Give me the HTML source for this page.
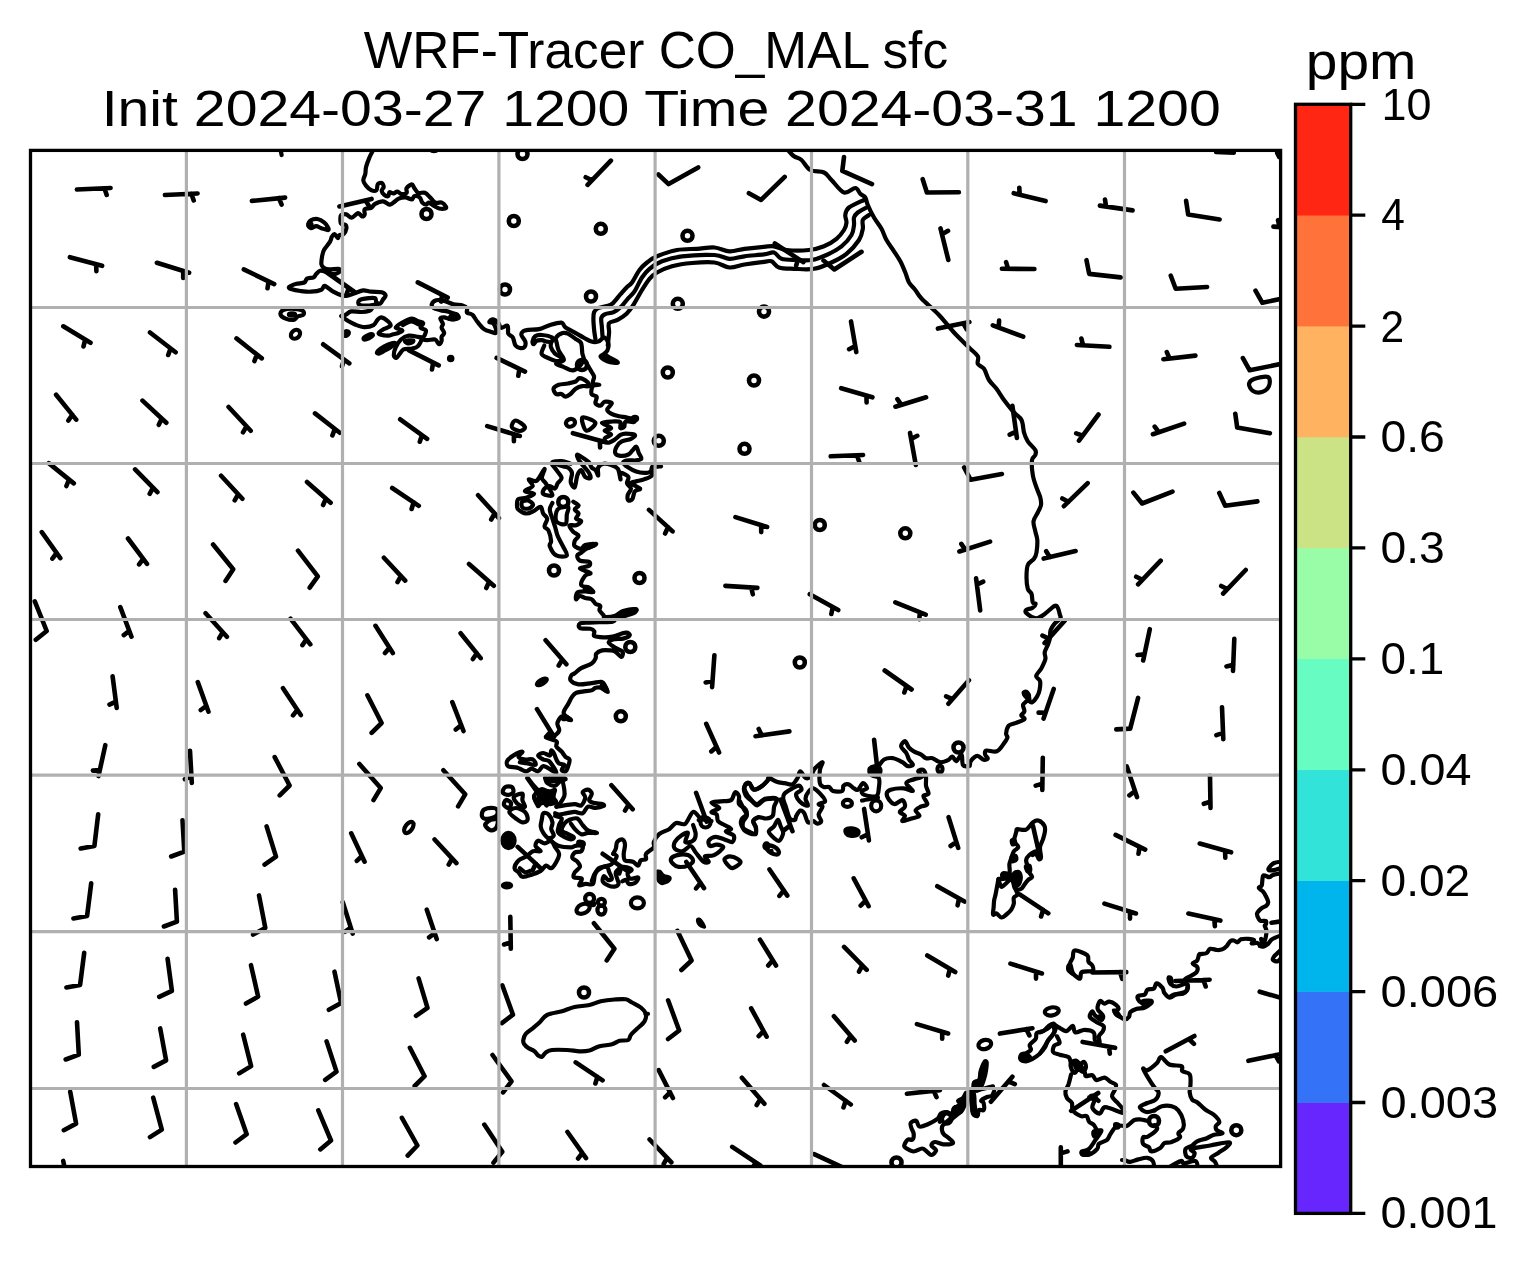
<!DOCTYPE html>
<html><head><meta charset="utf-8"><title>WRF-Tracer CO_MAL sfc</title>
<style>html,body{margin:0;padding:0;background:#fff}svg{display:block;will-change:transform}text{font-family:"Liberation Sans",sans-serif;fill:#000}</style></head>
<body>
<svg width="1528" height="1267" viewBox="0 0 1528 1267">
<rect width="1528" height="1267" fill="#fff"/>
<defs><clipPath id="ax"><rect x="30.5" y="150.4" width="1250.1" height="1016.1"/></clipPath></defs>
<g clip-path="url(#ax)">
<g fill="none" stroke="#000" stroke-width="4.2" stroke-linejoin="round" stroke-linecap="round">
<path d="M373.8 149C373 150.5 370.5 155 369.2 158.1C367.9 161.2 366.6 164.7 366 167.3C365.4 169.9 365.8 171.6 365.3 173.8C364.9 176 363.2 178.4 363.3 180.4C363.4 182.4 364.7 184 366 185.6C367.3 187.2 369.5 189.4 371.2 190.2C372.9 191 375.3 191.2 376.4 190.2C377.5 189.2 376.9 185.5 377.8 184.3C378.7 183.1 380.7 182.6 381.7 183C382.7 183.4 383.7 185.6 383.7 186.9C383.7 188.2 381.6 189.5 381.7 190.8C381.8 192.1 383.2 193.9 384.3 194.8C385.4 195.7 387.3 196.5 388.2 196.1C389.1 195.7 388.6 192.6 389.5 192.2C390.4 191.8 392.2 193.6 393.5 193.5C394.8 193.4 396.1 191.4 397.4 191.5C398.7 191.6 399.8 193.9 401.3 194.1C402.8 194.3 405.7 193.8 406.6 192.8C407.5 191.8 405.7 189.6 406.6 188.2C407.5 186.8 410.5 184.3 411.8 184.3C413.1 184.3 413.3 186.8 414.4 188.2C415.5 189.6 416.6 192 418.3 192.8C420.1 193.6 422.9 192 424.9 192.8C426.9 193.6 428.4 195.8 430.1 197.4C431.9 199 433.4 201.7 435.4 202.6C437.4 203.5 440.1 201.9 441.9 202.6C443.6 203.3 445.3 205.6 445.9 206.6C446.4 207.6 446.3 208.2 445.2 208.5C444.1 208.8 441.1 208.9 439.3 208.5C437.5 208.1 435.9 206.9 434.1 205.9C432.4 204.9 430.1 202.8 428.8 202.6C427.5 202.4 427.3 204.6 426.2 204.6C425.1 204.6 423.4 203.8 422.3 202.6C421.2 201.4 421 198.5 419.7 197.4C418.4 196.3 415.7 195.8 414.4 196.1C413.1 196.4 413.3 199.2 411.8 199.4C410.3 199.6 407.5 197.5 405.3 197.4C403.1 197.3 400.7 197.8 398.7 198.7C396.7 199.6 395 201.6 393.5 202.6C392 203.6 391.2 204.8 389.5 204.6C387.8 204.4 385.4 201.4 383 201.3C380.6 201.2 377.1 202.8 375.1 203.9C373.1 205 372.9 207 371.2 207.9C369.5 208.8 365.8 208.1 364.7 209.2C363.6 210.3 365.1 213.2 364.7 214.4C364.2 215.6 363.1 216.6 362 216.4C360.9 216.2 359.8 212.9 358.1 213.1C356.4 213.3 353.6 217.5 351.6 217.7C349.6 217.9 348.1 214.8 346.3 214.4C344.6 214 342.1 214.3 341.1 215.1C340.1 215.9 340.4 217.6 340.4 219C340.4 220.4 340.1 222.6 341 223.6C341.9 224.6 344.8 224 345.7 224.9C346.6 225.8 346.6 227.3 346.3 228.8C346 230.3 344.9 232.9 343.7 234C342.5 235.1 340.1 234.7 339.1 235.4C338.1 236.1 338.6 238.2 337.8 238C337 237.8 335.5 234.2 334.5 234C333.5 233.8 332.7 235.4 331.9 236.7C331.1 238 331.2 239.7 329.9 241.9C328.6 244.1 325.4 247.4 324.1 249.8C322.8 252.2 322.6 253.9 322.1 256.3C321.7 258.7 321.1 262.2 321.4 264.2C321.7 266.2 322.8 267.2 324.1 268.1C325.4 269 326.9 269.3 329.3 269.4C331.7 269.5 336.8 268.5 338.5 268.8C340.2 269.1 340.7 270.5 339.8 271.4C338.9 272.3 335.4 273.9 333.2 274C331 274.1 328.9 272.6 326.7 272C324.5 271.4 321.9 270.4 320.1 270.7C318.4 271 317.3 272.9 316.2 274C315.1 275.1 315.1 276.5 313.6 277.3C312.1 278.1 308.5 277.7 307 278.6C305.5 279.5 306.1 281.6 304.4 282.5C302.6 283.4 298.7 283.2 296.5 283.8C294.3 284.4 292.3 285.2 291 285.8C289.7 286.4 288.8 286.8 288.8 287.3C288.8 287.9 289.1 288.5 291 289.1C292.9 289.7 297.2 290.6 300.5 291C303.8 291.4 307.5 291.9 311 291.7C314.5 291.5 319.1 290.7 321.4 289.7C323.7 288.7 322.7 285.5 324.7 285.8C326.7 286.1 330.2 290.1 333.2 291.7C336.1 293.3 340 295 342.4 295.6C344.8 296.2 345.4 296 347.6 295.6C349.8 295.2 352.9 293.9 355.5 293C358.1 292.1 360.7 290.6 363.3 290.4C365.9 290.2 368.1 291.4 371.2 291.7C374.3 292 379.3 291.6 381.7 292.3C384.1 293 385.4 294.4 385.6 295.6C385.8 296.8 383.9 298.2 383 299.5C382.1 300.8 381.5 303.1 380.4 303.5C379.3 303.9 377.3 303.1 376.4 302.2C375.5 301.3 376.4 298.9 375.1 298.2C373.8 297.5 371.2 297.9 368.6 298.2C366 298.5 360.9 299.1 359.4 300.2C357.9 301.3 357.7 303.9 359.4 304.8C361.1 305.7 366.1 305.7 369.5 305.5C372.9 305.3 378.2 303.8 380 303.5"/>
<path d="M308.3 224.9C308.3 223.6 309.5 221.3 311 220.3C312.5 219.3 315.3 218.7 317.5 219C319.7 219.3 322.4 220.9 324.1 222.3C325.9 223.7 327.4 226.2 328 227.5C328.6 228.8 329.1 230 328 230.1C326.9 230.2 323.4 228.8 321.4 228.2C319.4 227.5 317.9 226.2 316.2 226.2C314.5 226.2 312.3 228.4 311 228.2C309.7 228 308.3 226.2 308.3 224.9Z"/>
<path d="M280.5 314.6C280.1 313.2 280.9 311.1 283.1 310.1C285.3 309.1 290.3 308.7 293.6 308.8C296.9 308.9 301.1 309.7 302.7 310.7C304.3 311.7 304.3 313.6 303.4 314.6C302.5 315.6 299.1 315.7 297.5 316.6C295.9 317.5 295.6 319.6 293.6 319.9C291.6 320.2 287.9 319.5 285.7 318.6C283.5 317.7 280.9 316 280.5 314.6Z"/>
<path d="M393.8 355.2C393.7 353.4 394.5 350 395.7 347.4C396.9 344.8 398.8 341.5 401 339.5C403.2 337.5 406 336 408.8 335.6C411.6 335.2 415.8 336.5 418 336.9C420.2 337.3 421.9 336.7 421.9 338.2C421.9 339.7 419.7 344.4 418 346.1C416.3 347.9 413.9 348.1 411.5 348.7C409.1 349.2 405.6 348.5 403.6 349.4C401.6 350.3 400.9 352.5 399.7 353.9C398.5 355.3 397.4 357.7 396.4 357.9C395.4 358.1 393.9 356.9 393.8 355.2Z"/>
<path d="M341.4 316C342.2 315.8 344.4 315.4 346 314.6C347.6 313.8 348.6 311.8 351.2 311.4C353.8 311 358.6 312.1 361.7 312C364.8 311.9 367.8 311.3 369.5 310.7C371.2 310.1 371.8 308.5 372.2 308.1"/>
<path d="M341.4 316C341.9 316.4 343.5 317.7 344.7 318.6C345.9 319.5 346.9 320.2 348.6 321.2C350.3 322.2 352.5 323.5 355.1 324.5C357.7 325.5 361.2 327 364.3 327.1C367.4 327.2 371.3 326.3 373.5 325.1C375.7 323.9 376.1 321.2 377.4 319.9C378.7 318.6 379.6 317.1 381.3 317.3C383.1 317.5 386.4 319.8 387.9 321.2C389.4 322.6 391.2 324.5 390.5 325.8C389.8 327.1 385.9 327.8 383.9 329.1C381.9 330.4 378 332.5 378.7 333.6C379.4 334.7 385.5 335.5 387.9 335.6C390.3 335.7 391.4 334.7 393.1 334.3C394.9 333.9 396.9 333.6 398.4 333C399.9 332.4 402.8 331.3 402.3 330.4C401.9 329.5 395.9 328.9 395.7 327.7C395.5 326.5 398.4 324.7 401 323.2C403.6 321.7 408.7 318.9 411.5 318.6C414.3 318.3 416.1 320.4 418 321.2C419.9 322 422.8 322.1 423.2 323.2C423.6 324.3 420.2 326.5 420.6 327.7C421.1 328.9 425.2 329.1 425.9 330.4C426.5 331.7 425.2 334.2 424.5 335.6C423.8 337 421.4 338.1 421.9 338.9C422.3 339.7 425 340.1 427.2 340.2C429.4 340.3 433 338.9 435 339.5C437 340.1 437.9 343.9 439 344.1C440.1 344.3 441.2 342 441.6 340.8C442 339.6 441.2 338.2 441.6 336.9C442 335.6 444.2 334.5 444.2 333C444.2 331.5 441.8 329.2 441.6 327.7C441.4 326.2 443.1 325.3 442.9 323.8C442.7 322.3 440.1 319.7 440.3 318.6C440.5 317.5 442.5 317.2 444.2 317.3C445.9 317.4 448.3 319.1 450.7 319.2C453.1 319.3 457.7 318.7 458.6 317.9C459.5 317.1 457.5 315.6 456 314.6C454.5 313.6 452 312.8 449.4 312C446.8 311.2 442.9 310.8 440.3 310.1C437.7 309.5 435.1 309.1 433.7 308.1C432.3 307.1 431.4 305.5 431.8 304.2C432.2 302.9 434.2 300.8 436.3 300.2C438.4 299.6 441.4 300.2 444.2 300.9C447 301.6 450.3 303.4 453.4 304.2C456.4 305 460.2 304.8 462.5 305.5C464.8 306.2 466.2 307 467 308.2C467.8 309.4 466.1 311.6 467 312.7C467.9 313.8 470.6 313.2 472.3 314.7C474.1 316.2 475.5 319.5 477.5 321.9C479.5 324.3 481.9 327.5 484.1 329.1C486.3 330.7 488.7 331.1 490.6 331.7C492.6 332.3 494.9 333.5 495.8 333C496.7 332.5 496.2 330.1 495.8 328.5C495.4 326.9 494.3 324.3 493.2 323.2C492.1 322.1 489.3 322.5 489.3 321.9C489.3 321.2 491.7 319.1 493.2 319.3C494.7 319.5 497.2 321.8 498.5 323.2C499.8 324.6 499.6 327.4 501.1 327.8C502.6 328.2 506.4 324.8 507.6 325.8C508.8 326.8 507.4 331.7 508.3 333.7C509.2 335.7 511.7 335.6 512.9 337.6C514.1 339.6 514.2 343.8 515.5 345.5C516.8 347.2 519.2 347.9 520.7 348.1C522.2 348.3 523.9 347.9 524.7 346.8C525.5 345.7 525.8 343.6 525.3 341.6C524.8 339.6 521.7 336.8 521.4 335C521.1 333.2 522.1 332 523.3 331.1C524.5 330.2 526 330.1 528.6 329.8C531.2 329.5 535.6 329.9 539.1 329.1C542.6 328.3 545.8 326.3 549.5 325.2C553.2 324.1 558.7 322.3 561.3 322.6C563.9 322.9 563.1 325.6 565.3 327.2C567.5 328.8 571.3 330.7 574.4 332.4C577.5 334.1 580.8 336.1 583.6 337.6C586.5 339.1 589.1 340.9 591.5 341.6C593.9 342.3 595.8 342.3 598 341.6C600.2 340.9 602.9 337.2 604.6 337.6C606.4 338 608.1 342 608.5 344.2C608.9 346.4 608.1 348.9 607.2 350.7C606.3 352.4 603.9 354 603.2 354.7"/>
<path d="M403 325C404.3 324.4 408.3 321.6 411 321.5C413.7 321.4 417.7 324 419 324.5"/>
<path d="M532.5 341.6C532.7 340.3 533.6 337.4 535.1 336.3C536.6 335.2 538.9 334.8 541.7 335C544.6 335.2 550.6 336.5 552.2 337.6C553.8 338.7 552.4 340.9 551.5 341.6C550.6 342.3 548.5 341.8 546.9 341.6C545.3 341.4 543.5 340.3 541.7 340.2C540 340.1 537.7 340.2 536.4 340.9C535.1 341.6 534.4 344.1 533.8 344.2C533.1 344.3 532.3 342.9 532.5 341.6Z"/>
<path d="M544.3 345.5C543.9 346.9 540.8 351.8 541.7 354C542.6 356.2 546.9 357.4 549.5 358.6C552.1 359.8 555.2 361.2 557.4 361.2C559.6 361.2 563 359.9 562.6 358.6C562.2 357.3 556.8 355.4 554.8 353.4C552.8 351.4 551.3 348.8 550.8 346.8C550.2 344.8 551.4 342.5 551.5 341.6"/>
<path d="M556.1 337.6C557.1 336 560.6 333.8 562.6 333.1C564.6 332.5 565.7 332.7 567.9 333.7C570.1 334.7 573.5 337.4 575.7 338.9C577.9 340.4 579.9 340.5 581 342.9C582.1 345.3 581.9 350.7 582.3 353.3C582.7 355.9 583.8 356.7 583.6 358.6C583.4 360.5 582.8 362.5 581 364.5C579.2 366.5 576 370 573.1 370.4C570.2 370.8 566.7 368.2 563.9 367.1C561.1 366 556.1 365 556.1 363.8C556.1 362.6 563.5 362.1 563.9 359.9C564.3 357.7 559.9 353.5 558.7 350.7C557.5 347.9 557.1 345.1 556.7 342.9C556.3 340.7 555.1 339.2 556.1 337.6Z"/>
<path d="M583.6 358.6C584.2 359.7 586.2 362.9 587.5 365.1C588.8 367.3 590.4 369.7 591.5 371.7C592.6 373.7 593.9 374.9 594.1 376.9C594.3 378.9 591.9 382.2 592.8 383.5C593.7 384.8 599.3 384.4 599.3 384.8C599.3 385.2 594.1 384.6 592.8 386.1C591.5 387.6 590.9 392.2 591.5 394C592.1 395.8 596.1 395.1 596.7 396.6C597.4 398.1 594.8 401.6 595.4 403.1C596 404.6 599.1 405.9 600.6 405.7C602.1 405.5 602.7 402.2 604.6 401.8C606.5 401.4 611.4 401.8 611.8 403.1C612.2 404.4 607.3 407.9 607.2 409.7C607.1 411.4 609.1 412.5 611.1 413.6C613.1 414.7 616.4 415.6 619 416.2C621.6 416.8 624.2 416.9 626.8 417.5C629.4 418.1 633.6 418.7 634.7 419.5C635.8 420.3 634.9 421.8 633.4 422.1C631.9 422.4 627 420.7 625.5 421.5C624 422.3 625.1 425.6 624.2 426.7C623.3 427.8 620.9 428.8 620.3 428C619.6 427.2 621.6 423.2 620.3 422.1C619 421 615.5 421.4 612.4 421.5C609.3 421.6 602.1 421.7 601.9 422.8C601.7 423.9 610.6 426.7 611.1 428C611.6 429.3 604.6 429.5 604.6 430.6C604.6 431.7 611.1 433.2 611.1 434.5C611.1 435.8 605.2 437.1 604.6 438.5C604 439.9 605.8 442.4 607.4 442.7C609 443 611.8 441.4 614 440.1C616.2 438.8 618.5 436 620.5 434.9C622.5 433.8 623.3 433.6 625.7 433.6C628.1 433.6 634 434 634.9 434.9C635.8 435.8 633.2 437.7 631 438.8C628.8 439.9 624.2 440.1 621.8 441.4C619.4 442.7 617.7 444.7 616.6 446.7C615.5 448.7 614.6 451.7 615.3 453.2C615.9 454.7 618.3 455.6 620.5 455.8C622.7 456 626.4 455.4 628.4 454.5C630.4 453.6 631 451.9 632.3 450.6C633.6 449.3 635.1 446.3 636.2 446.7C637.3 447.1 637.9 451.2 638.8 453.2C639.7 455.2 641.8 457.3 641.4 458.5C641 459.7 638.4 460.1 636.2 460.4C634 460.7 630.6 460.1 628.4 460.4C626.2 460.7 623.1 461.2 623.1 462.4C623.1 463.6 626.2 466.1 628.4 467.6C630.6 469.1 633.6 470.7 636.2 471.6C638.8 472.5 641.7 472.9 644.1 472.9C646.5 472.9 649.2 472.7 650.6 471.6C652 470.5 650.9 467.2 652.6 466.3C654.4 465.4 661 466 661.1 466.3C661.2 466.6 654.5 466.5 653 468C651.5 469.5 653.4 473.6 651.9 475.5C650.4 477.4 646.7 478.4 644.1 479.4C641.5 480.4 638.4 480.8 636.2 481.4C634 482 630.4 482.1 631 483.3C631.6 484.5 639.5 487.3 640.1 488.6C640.8 489.9 636.2 489.4 634.9 491.2C633.6 492.9 633.4 497.6 632.3 499.1C631.2 500.6 629.2 501.1 628.4 500.4C627.6 499.7 627.3 497.1 627.7 495.1C628.1 493.1 631.1 490.6 631 488.6C630.9 486.6 627.4 485.3 627 483.3C626.6 481.3 629.5 478.5 628.4 476.8C627.3 475.1 621.8 472.5 620.5 472.9C619.2 473.3 620.9 480.1 620.5 479.4C620.1 478.7 619.4 471.3 617.9 468.9C616.4 466.5 613.7 465.9 611.3 465C608.9 464.1 605.7 463.3 603.5 463.7C601.3 464.1 599.1 465.6 598.2 467.6C597.3 469.6 598.6 475.1 598.2 475.5C597.8 475.9 596.7 471.5 595.6 470.2C594.5 468.9 592.8 468.9 591.7 467.6C590.6 466.3 590.4 463.9 589.1 462.4C587.8 460.9 585.8 459.8 583.8 458.5C581.8 457.2 578.2 454.3 577.3 454.5C576.4 454.7 577.5 457.8 578.6 459.8C579.7 461.8 582 464.1 583.8 466.3C585.5 468.5 588 470.9 589.1 472.9C590.2 474.9 591.1 477.5 590.4 478.1C589.7 478.8 586.6 478.1 585.1 476.8C583.6 475.5 582.5 470.4 581.2 470.2C579.9 470 578.4 472.6 577.3 475.5C576.2 478.4 575.8 486.2 574.7 487.3C573.6 488.4 571.2 484.4 570.7 482C570.2 479.6 572.4 475.3 572 472.9C571.6 470.5 569.6 468.7 568.1 467.6C566.6 466.5 565.5 467.2 562.9 466.3C560.3 465.4 552.6 463.3 552.4 462.4C552.2 461.5 558.5 460.9 561.6 461.1C564.7 461.3 569.2 463.3 570.7 463.7"/>
<path d="M553.5 388.7C553.9 387.2 556.3 385.7 558.7 384.8C561.1 383.9 565.1 384.1 567.9 383.5C570.7 382.9 573.7 382.4 575.7 381.5C577.7 380.6 577.7 378.1 579.7 378.2C581.7 378.3 586 380.9 587.5 382.2C589 383.5 589.7 385.5 588.8 386.1C587.9 386.8 584.5 385.7 582.3 386.1C580.1 386.5 577.7 387.4 575.7 388.7C573.7 390 572.2 392.7 570.5 394C568.8 395.3 566.8 396.6 565.3 396.6C563.8 396.6 562.8 394.4 561.3 394C559.8 393.6 557.4 394.9 556.1 394C554.8 393.1 553.1 390.2 553.5 388.7Z"/>
<path d="M582.3 417.5C583.8 416.2 594.8 420.6 595.4 422.8C596 425 588.4 431.5 586.2 430.6C584 429.7 580.8 418.8 582.3 417.5Z"/>
<path d="M515.7 420.5C517.9 420.5 524.2 425.2 524.9 427C525.5 428.8 521.8 431 519.6 431C517.4 431 512.5 428.8 511.8 427C511.2 425.2 513.5 420.5 515.7 420.5Z"/>
<path d="M552.4 465C553.3 466.1 556.1 469.4 557.6 471.6C559.1 473.8 561.6 476.2 561.6 478.1C561.6 480.1 558.7 481.6 557.6 483.3C556.5 485.1 556.3 488.2 555 488.6C553.7 489.1 551.5 486 549.8 486C548 486 545.6 487.3 544.5 488.6C543.4 489.9 541.9 492.7 543.2 493.8C544.5 494.9 552 496.9 552.4 495.1C552.8 493.4 547.5 486.1 545.8 483.3C544 480.5 542.1 480.5 541.9 478.1C541.7 475.7 545.4 468.5 544.5 468.9C543.6 469.3 539.3 478.9 536.7 480.7C534.1 482.4 529.5 478.5 528.8 479.4C528.1 480.3 533.4 484 532.7 486C532.1 488 524.7 489.9 524.9 491.2C525.1 492.5 533.9 492.7 534.1 493.8C534.3 494.9 528.8 496.9 526.2 497.8C523.6 498.7 519.8 497.9 518.3 499.1C516.8 500.3 517 503.3 517 505C517 506.7 516.8 508.1 518.3 509.5C519.8 510.9 523.6 513.3 526.2 513.5C528.8 513.7 531.7 511.9 534.1 510.8C536.5 509.7 539.1 506.4 540.6 506.9C542.1 507.3 542.1 511.5 543.2 513.5C544.3 515.5 547 516.5 547.2 518.7C547.4 520.9 544.3 524.6 544.5 526.6C544.7 528.6 547.4 528.1 548.5 530.5C549.6 532.9 550.9 538.4 551.1 541C551.3 543.6 548.9 543.8 549.8 546.2C550.7 548.6 553.5 553.9 556.3 555.4C559.1 556.9 565.7 556.9 566.8 555.4C567.9 553.9 564.4 549.5 562.9 546.2C561.4 542.9 558.9 539 557.6 535.7C556.3 532.4 555.9 529.4 555 526.6C554.1 523.8 553.3 521.6 552.4 518.7C551.5 515.9 549.8 512.1 549.8 509.5C549.8 506.9 552 504.1 552.4 503"/>
<path d="M522 502C522.9 500.8 526.2 500.1 528 500.5C529.8 500.9 532.8 503.2 533 504.5C533.2 505.8 530.8 508 529 508.5C527.2 509 523.7 508.6 522.5 507.5C521.3 506.4 521.1 503.2 522 502Z"/>
<path d="M557.6 509.5C555.6 511.9 555 518.9 556.3 521.3C557.6 523.7 563.8 525.1 565.5 524C567.2 522.9 566.4 517.6 566.8 514.8C567.2 511.9 569.6 507.8 568.1 506.9C566.6 506 559.6 507.1 557.6 509.5Z"/>
<path d="M573.3 501.7C574.2 502.4 578.4 504.3 578.6 505.6C578.8 506.9 574.7 508.2 574.7 509.5C574.7 510.8 578.4 512 578.6 513.5C578.8 515 575.6 517.4 576 518.7C576.4 520 581.2 520.2 581.2 521.3C581.2 522.4 578 524.6 576 525.3C574 526 569.9 524.2 569.4 525.3C568.9 526.4 571.8 530.1 573.3 531.8C574.8 533.5 578.4 534.2 578.6 535.7C578.8 537.2 575.4 539.2 574.7 541C574.1 542.8 573.6 544.9 574.7 546.2C575.8 547.5 579.5 549 581.2 548.8C582.9 548.6 582.7 545.7 585.1 544.9C587.5 544.1 595.4 543.6 595.6 544.2C595.8 544.9 588.8 547.4 586.4 548.8C584 550.2 582.7 551.7 581.2 552.8C579.7 553.9 577.5 554.1 577.3 555.4C577.1 556.7 577.9 559.5 579.9 560.6C581.9 561.7 587.6 561 589.1 561.9C590.6 562.8 590.6 564.7 589.1 565.8C587.6 566.9 579.7 567.3 579.9 568.5C580.1 569.7 589.5 571.9 590.4 573.1C591.3 574.3 586.6 573.7 585.1 575.7C583.6 577.7 580.5 582.8 581.2 584.9C581.9 587 587.1 587 589.1 588.2C591.1 589.4 593.7 591.6 593 592.1C592.3 592.6 587.7 591.3 585.1 591.4C582.5 591.5 578.8 591.4 577.3 592.7C575.8 594 575.6 598.8 576 599.3C576.4 599.8 578.4 596.2 579.9 596C581.4 595.8 583.1 597.5 585.1 598C587.1 598.5 590 598.3 591.7 599.3C593.5 600.3 594.2 602.8 595.6 603.9C597 605 599.6 604.7 600.2 605.8C600.9 606.9 599 608.9 599.5 610.4C600 611.9 602.6 613.9 603.5 615C604.4 616.1 602.8 616.9 604.8 617C606.8 617.1 612.2 616.7 615.3 615.7C618.3 614.7 619.7 612.2 623.1 611.1C626.5 610 633.6 608.9 635.6 609.1C637.6 609.3 636.5 611.3 634.9 612.4C633.2 613.5 628.8 614.7 625.7 615.7C622.7 616.7 618.8 617.3 616.6 618.3C614.4 619.3 615.5 621 612.6 621.6C609.8 622.2 603.4 622 599.5 622.2C595.6 622.4 592.4 622.4 589.1 622.6C585.8 622.8 581.4 622.6 579.9 623.5C578.4 624.4 578.1 627.2 579.9 628.1C581.6 629 588 628.2 590.4 628.8C592.8 629.3 593.6 630.2 594.3 631.4C594.9 632.6 592.8 635 594.3 636C595.8 637 600.5 637.2 603.5 637.3C606.5 637.4 608.9 637.4 612.6 636.6C616.3 635.8 622.9 632.9 625.7 632.7C628.6 632.5 630.1 634.3 629.7 635.3C629.3 636.3 625.7 638 623.1 638.6C620.5 639.2 616.4 638.6 614 639.2C611.6 639.9 608.5 641.1 608.7 642.5C608.9 643.9 613 646.3 615.3 647.8C617.6 649.3 621.5 650.2 622.5 651.7C623.5 653.2 622.4 656.9 621.2 656.9C620 656.9 617.2 652.8 615.3 651.7C613.4 650.6 612.2 650.6 610 650.4C607.8 650.2 604.5 649.9 602.2 650.4C599.9 650.9 597.4 652.3 596.3 653.6C595.2 654.9 596.4 656.6 595.6 658.2C594.8 659.9 594.1 661.9 591.7 663.5C589.3 665.1 584 666.5 581.2 668.1C578.4 669.7 576.3 672.1 574.7 673.3C573.1 674.5 572.1 674.1 571.4 675.3C570.7 676.5 569.5 679 570.7 680.5C571.9 682 575.1 684 578.6 684.4C582.1 684.8 587.9 683.5 591.7 683.1C595.5 682.7 599.3 681.4 601.5 681.8C603.7 682.2 603.8 684.1 604.8 685.7C605.8 687.3 608 691.3 607.4 691.6C606.8 691.9 602.9 688.4 600.9 687.7C598.9 687.1 597.1 687.3 595.6 687.7C594.1 688.1 593.9 689.6 591.7 690.3C589.5 690.9 585.1 691.2 582.5 691.6C579.9 692 577.8 692 576 692.9C574.2 693.8 573.3 695 572 696.9C570.7 698.8 569.4 701.8 568.1 704.1C566.8 706.4 564.9 708.9 564.2 710.6C563.6 712.4 563.1 713.1 564.2 714.6C565.3 716.1 570.5 719.1 570.7 719.8C570.9 720.4 567 719 565.5 718.5C564 718 562.9 715.9 561.6 716.5C560.3 717.1 558.2 720.9 557.6 722.4C557 723.9 557.5 724.1 557.8 725.5C558 726.9 559.8 729 559.1 730.7C558.4 732.5 556 734.9 553.8 736C551.6 737.1 545.6 736.4 546 737.3C546.4 738.2 554.7 739.7 556.4 741.2C558.1 742.7 555.5 744.6 556.4 746.4C557.3 748.1 560.2 750 561.7 751.7C563.2 753.5 564.3 755.6 565.6 756.9C566.9 758.2 569.1 758 569.5 759.5C569.9 761 568.9 764.1 568.2 766.1C567.6 768.1 566.7 770.6 565.6 771.3C564.5 771.9 561.9 771.1 561.7 770C561.5 768.9 564.7 765.9 564.3 764.8C563.9 763.7 560.4 764.4 559.1 763.5C557.8 762.6 557.3 761.2 556.4 759.5C555.5 757.8 554.7 754.5 553.8 753C552.9 751.5 551.9 750 551.2 750.4C550.6 750.8 551.2 755.2 549.9 755.6C548.6 756 545.3 753 543.3 753C541.3 753 538.1 754.5 538.1 755.6C538.1 756.7 541.5 758.6 543.3 759.5C545 760.4 546.9 759.5 548.6 760.8C550.4 762.1 552.5 765.4 553.8 767.4C555.1 769.4 556.8 772.2 556.4 772.6C556 773 553.4 771.1 551.2 770C549 768.9 545.5 765.9 543.3 766.1C541.1 766.3 540 770.9 538.1 771.3C536.2 771.7 533.6 768.7 531.6 768.7C529.6 768.7 528.3 771.3 526.3 771.3C524.3 771.3 521.5 769.4 519.8 768.7C518 768.1 517.8 767.8 515.8 767.4C513.8 767 509.4 767.2 508 766.1C506.6 765 506.4 762.5 507.3 760.8C508.2 759 510.7 757.1 513.2 755.6C515.7 754.1 521.5 751.5 522.4 751.7C523.3 751.9 518.1 755.6 518.5 756.9C518.9 758.2 522.6 759.1 525 759.5C527.4 759.9 531.1 758.6 532.9 759.5C534.6 760.4 536.4 764.1 535.5 764.8C534.6 765.5 530.2 763.9 527.6 763.5C525 763.1 521.1 762.4 519.8 762.2"/>
<path d="M527.6 777.9C528.7 779.2 531.9 783.6 534 786C536.1 788.4 537.8 789.7 540 792C542.2 794.3 546.8 798.2 547 800C547.2 801.8 543.2 803.3 541 803C538.8 802.7 534.5 797.5 534 798C533.5 798.5 537.3 804.7 538 806"/>
<path d="M545 778C545.4 778.9 545.6 781.8 547.3 783.1C549 784.4 552.7 786.1 555.1 785.7C557.5 785.3 560.2 779.8 561.7 780.5C563.2 781.2 563.9 787.1 564.3 789.7C564.7 792.3 564.9 794 564.3 796.2C563.6 798.4 561.7 801 560.4 802.8C559.1 804.5 557.1 806.1 556.4 806.7"/>
<path d="M536 793C537.3 791.7 539.8 789.2 542 789C544.2 788.8 546.8 791.8 549 792C551.2 792.2 554.3 789.2 555 790C555.7 790.8 552.8 795 553 797C553.2 799 556.7 800.8 556 802C555.3 803.2 551.2 804.3 549 804C546.8 803.7 544.8 800.2 543 800C541.2 799.8 539.5 803.5 538 803C536.5 802.5 534.3 798.7 534 797C533.7 795.3 534.7 794.3 536 793Z"/>
<path d="M502.7 792.3C502.3 791 503.9 787.9 505.4 787C506.9 786.1 510.6 786.1 511.9 787C513.2 787.9 513.9 791 513.2 792.3C512.6 793.6 509.8 794.9 508 794.9C506.2 794.9 503.1 793.6 502.7 792.3Z"/>
<path d="M514.5 796.2C515.8 795.1 521.1 793 522.4 793.6C523.7 794.2 522 797.9 522.4 800.1C522.8 802.3 525.4 805.8 525 806.7C524.6 807.6 521.5 806.5 519.8 805.4C518 804.3 515.4 801.6 514.5 800.1C513.6 798.6 513.2 797.3 514.5 796.2Z"/>
<path d="M509.3 811.9C509.3 810.1 513.2 808 515.8 808C518.4 808 523 809.9 525 811.9C527 813.9 528 818 527.6 819.8C527.2 821.5 524.4 822.6 522.4 822.4C520.4 822.2 518 820.2 515.8 818.5C513.6 816.8 509.3 813.6 509.3 811.9Z"/>
<path d="M506 800C507.2 799.7 510.5 801.7 511 803C511.5 804.3 510.2 807.7 509 808C507.8 808.3 504.5 806.3 504 805C503.5 803.7 504.8 800.3 506 800Z"/>
<path d="M481.8 814.5C481.9 813 482.4 810.4 484.4 809.3C486.4 808.2 491.4 807.8 493.6 808C495.8 808.2 497.1 809.3 497.5 810.6C497.9 811.9 497.5 814.6 496.2 815.9C494.9 817.2 491.6 818.1 489.6 818.5C487.6 818.9 485.3 819.2 484 818.5C482.7 817.8 481.7 816 481.8 814.5Z"/>
<path d="M485.7 823.7C486.6 822.6 489 820.4 491 819.8C493 819.1 496.6 818.5 497.5 819.8C498.4 821.1 497.3 825.9 496.2 827.6C495.1 829.4 492.8 830.5 491 830.3C489.2 830.1 486.6 827.4 485.7 826.3C484.8 825.2 484.8 824.8 485.7 823.7Z"/>
<path d="M514.5 868.2C514.5 866.2 516.5 862.4 518.5 860.4C520.5 858.4 523.9 858 526.3 856.5C528.7 855 530.5 852.1 532.9 851.2C535.3 850.3 540.3 852.1 540.7 851.2C541.1 850.3 535.9 847.8 535.5 846C535.1 844.2 536.6 841.1 538.1 840.7C539.6 840.3 542.5 843.4 544.7 843.4C546.9 843.4 549.5 840.1 551.2 840.7C552.9 841.4 553.8 845.1 555.1 847.3C556.4 849.5 558.9 851.4 559.1 853.8C559.3 856.2 557.7 859.3 556.4 861.7C555.1 864.1 552.9 867.6 551.2 868.2C549.5 868.9 547.8 865.2 546 865.6C544.2 866 543.1 869.4 540.7 870.9C538.3 872.4 534.7 873.8 531.6 874.8C528.5 875.8 524.6 877.2 522.4 876.8C520.2 876.4 519.8 873.6 518.5 872.2C517.2 870.8 514.5 870.2 514.5 868.2Z"/>
<path d="M519.8 868.2C520.7 868.9 523.3 871.8 525 872.2C526.7 872.7 529.3 871.1 530.2 870.9"/>
<path d="M543.3 813.2C544.4 812.5 547.1 813 548.6 814.5C550.1 816 552.1 820 552.5 822.4C552.9 824.8 551 826.8 551.2 829C551.4 831.2 554.2 834 553.8 835.5C553.4 837 550.4 838.5 548.6 838.1C546.9 837.7 544.6 834.9 543.3 832.9C542 830.9 540.9 828.7 540.7 826.3C540.5 823.9 541.6 820.7 542 818.5C542.4 816.3 542.2 813.9 543.3 813.2Z"/>
<path d="M555.1 815.9C556.2 816.3 561 817 561.7 818.5C562.4 820 559.8 822.8 559.1 825C558.5 827.2 557.4 829.9 557.8 831.6C558.2 833.4 559.5 834.2 561.7 835.5C563.9 836.8 568.9 839.2 570.9 839.4C572.9 839.6 574.4 837.9 573.5 836.8C572.6 835.7 567.6 834 565.6 832.9C563.6 831.8 561.9 831.8 561.7 830.3C561.5 828.8 563 825.5 564.3 823.7C565.6 822 567.3 820.7 569.5 819.8C571.7 818.9 575.2 817.6 577.4 818.5C579.6 819.4 580.9 823 582.6 825C584.4 827 585.5 829 587.9 830.3C590.3 831.6 597 832.5 597 832.9C597 833.3 590.5 832.7 587.9 832.9C585.3 833.1 583.5 834.9 581.3 834.2C579.1 833.6 576.5 830.8 574.8 829C573.1 827.2 571.5 824.6 570.9 823.7"/>
<path d="M556.4 806.7C557.7 806.5 561.2 805.8 564.3 805.4C567.4 805 572 804.1 574.8 804.1C577.6 804.1 579.5 806.5 581.3 805.4C583 804.3 585.1 799.7 585.3 797.5C585.5 795.3 582.2 793.6 582.6 792.3C583 791 586.4 789.5 587.9 789.7C589.4 789.9 591.6 791.9 591.8 793.6C592 795.3 589 798.6 589.2 800.1C589.4 801.6 590.9 802.1 593.1 802.8C595.3 803.5 600.5 803.6 602.3 804.1C604 804.6 604.7 805.4 603.6 806C602.5 806.6 598.3 807.9 595.7 808C593.1 808.1 590.1 805.8 587.9 806.7C585.7 807.6 584.8 812.3 582.6 813.2C580.4 814.1 577.4 811.9 574.8 811.9C572.2 811.9 569.5 812.8 566.9 813.2C564.3 813.6 561.1 814.5 559.1 814.5C557.1 814.5 555.8 813.4 555.1 813.2"/>
<path d="M548.6 839.4C550.4 840.5 555.4 844.7 559.1 846C562.8 847.3 568.3 847.3 570.9 847.3C573.5 847.3 572.8 846.4 574.8 846C576.8 845.6 581.5 843.8 582.6 844.7C583.7 845.6 582.6 849.9 581.3 851.2C580 852.5 576.3 851.4 574.8 852.5C573.3 853.6 571.8 856.3 572.2 857.8C572.6 859.3 576.1 860.2 577.4 861.7C578.7 863.2 580.4 865.1 580 866.9C579.6 868.6 575.8 870.5 574.8 872.2C573.8 874 572.7 876.3 573.9 877.4C575.1 878.5 580.9 877.4 581.8 878.7C582.7 880 578.6 884.4 579.2 885.3C579.9 886.2 583.4 884.1 585.7 883.9C588 883.7 591.4 885.4 592.9 883.9C594.4 882.4 593.9 877.4 594.9 874.8C595.9 872.2 596.8 869.5 598.8 868.2C600.8 866.9 605 866.2 606.7 866.9C608.5 867.6 608.4 870.2 609.3 872.2C610.2 874.2 612.1 877.4 611.9 878.7C611.7 880 609.3 880.4 608 880C606.7 879.6 605 875.9 604.1 876.1C603.2 876.3 602.1 879.8 602.7 881.3C603.4 882.8 606 884.4 608 885.3C610 886.2 612.8 886.8 614.5 886.6C616.2 886.4 618 885.2 618.5 883.9C619 882.6 617.7 880.7 617.2 878.7C616.8 876.8 614.9 874.2 615.8 872.2C616.7 870.2 619.8 867.4 622.4 866.9C625 866.4 630.7 868.4 631.6 869.5C632.5 870.6 627.8 872 627.6 873.5C627.4 875 628.5 878.1 630.2 878.7C632 879.4 637.2 876.8 638.1 877.4C639 878 637 881.5 635.5 882.6C634 883.7 630.4 884.3 628.9 883.9C627.4 883.5 627.4 880.4 626.3 880C625.2 879.6 623 881.1 622.4 881.3"/>
<path d="M613.2 853.8C613.6 852.9 615.1 850.6 615.8 848.6C616.5 846.6 616.1 843.5 617.2 842C618.3 840.5 621.1 838.9 622.4 839.4C623.7 839.9 624.8 842.3 625 844.7C625.2 847.1 623.7 851.2 623.7 853.8C623.7 856.4 623.5 859.1 625 860.4C626.5 861.7 630.7 860.8 632.9 861.7C635.1 862.6 636.8 865.8 638.1 865.6C639.4 865.4 639.4 861.5 640.7 860.4C642 859.3 645.1 860.2 646 859.1C646.9 858 644.7 855.8 646 853.8C647.3 851.8 652.5 849.3 653.8 847.3C655.1 845.3 652.9 844.2 653.8 842C654.7 839.8 656.5 836.4 659.1 834.2C661.7 832 666.7 830.8 669.5 828.9C672.3 827 673.5 823.9 676.1 823C678.7 822.1 682.5 825.6 685.3 823.7C688.1 821.9 690.5 812.8 693.1 811.9C695.7 811 697.9 817 701 818.5C704.1 820 709.8 820.7 711.5 821.1"/>
<path d="M613.2 853.8C613.8 854.2 617 854.8 616.7 856.5C616.4 858.2 613.6 862.6 611.4 864.3C609.2 866 606.2 865.6 603.6 866.9C601 868.2 597.7 869.9 595.7 872.2C593.7 874.6 592.4 879.5 591.8 881"/>
<path d="M693.1 825C693.5 826.5 695.7 831.6 695.7 834.2C695.7 836.8 694.8 839.4 693.1 840.7C691.4 842 686.2 843.3 685.3 842C684.4 840.7 688.6 834 687.9 832.9C687.2 831.8 683.5 834 681.3 835.5C679.1 837 675.9 839.8 674.8 842C673.7 844.2 673.5 847.1 674.8 848.6C676.1 850.1 680 851.6 682.6 851.2C685.2 850.8 688.3 845.8 690.5 846C692.7 846.2 693.5 849.9 695.7 852.5C697.9 855.1 701.4 860.2 703.6 861.7C705.8 863.2 708.6 862.6 708.8 861.7C709 860.8 704 857.5 704.9 856.4C705.8 855.3 711 856.6 714.1 855.1C717.2 853.6 722.8 849 723.2 847.3C723.6 845.6 718.9 844.9 716.7 844.7C714.5 844.5 711.4 846.7 710.1 846C708.8 845.3 707.9 842.2 708.8 840.7C709.7 839.2 712.8 837 715.4 836.8C718 836.6 721.7 838.5 724.5 839.4C727.3 840.3 730.9 842.6 732.4 842C733.9 841.4 734.8 837.2 733.7 835.5C732.6 833.8 726.3 832.7 725.9 831.6C725.5 830.5 731.3 830 731.1 828.9C730.9 827.8 726.7 826.3 724.5 825C722.3 823.7 719.3 822.9 718 821.1C716.7 819.4 717.8 816 716.7 814.5C715.6 813 711.1 813 711.5 811.9C711.9 810.8 719.3 809.5 719.3 808C719.3 806.5 711.3 803.8 711.5 802.7C711.7 801.6 717.3 801.8 720.6 801.4C723.9 801 728.7 801.6 731.1 800.1C733.5 798.6 733.7 792.9 735 792.3C736.3 791.6 738.3 794.2 739 796.2C739.7 798.2 737.9 801.9 739 804.1C740.1 806.3 744.2 807.3 745.5 809.3C746.8 811.2 747.2 813.6 746.8 815.8C746.4 818 743.3 820 742.9 822.4C742.5 824.8 742.2 828.3 744.2 830.3C746.2 832.3 752.7 834.7 754.7 834.2C756.7 833.8 756.2 829.8 756 827.6C755.8 825.4 753 822.8 753.4 821.1C753.8 819.4 756.2 817.6 758.3 817.2C760.4 816.8 763.8 818.7 766.2 818.5C768.6 818.3 771.4 817.9 772.7 815.9C774 813.9 773.4 809.6 774.1 806.7C774.8 803.9 778.2 800.1 776.7 798.8C775.2 797.5 768.2 797.9 764.9 798.8C761.6 799.7 759.4 804.1 757 804.1C754.6 804.1 752.5 801 750.5 798.8C748.5 796.6 746.1 793.4 745.2 791C744.3 788.6 744.5 785.7 745.2 784.4C745.9 783.1 747.7 782.2 749.2 783.1C750.7 784 752.2 789.3 754.4 789.7C756.6 790.1 760.1 787.2 762.3 785.7C764.5 784.2 766.4 781.8 767.5 780.5C768.6 779.2 767.3 777.7 768.8 777.9C770.3 778.1 774.1 780.9 776.7 781.8C779.3 782.7 781.9 782.7 784.5 783.1C787.1 783.5 790.2 785.3 792.4 784.4C794.6 783.5 796.3 780.1 797.6 777.9C798.9 775.7 799 771.3 800.3 771.3C801.6 771.3 803.8 777 805.5 777.9C807.2 778.8 809.2 778.1 810.7 776.6C812.2 775.1 812.7 771.1 814.7 768.7C816.7 766.3 821.6 762 822.5 762.2C823.4 762.4 820.3 766.5 819.9 770C819.5 773.5 819.2 780.3 819.9 783.1C820.5 785.9 822.3 786.4 823.8 787C825.3 787.6 827.6 786.3 829.1 787C830.6 787.7 830.8 790.3 833 791C835.2 791.7 840.5 791.9 842.2 791C844 790.1 842.4 786.8 843.5 785.7C844.6 784.6 847 784 848.7 784.4C850.4 784.8 852.4 787.4 853.9 788.3C855.4 789.2 856.4 790.6 857.9 789.7C859.4 788.8 861.6 783.3 863.1 783.1C864.6 782.9 867.2 787 867 788.3C866.8 789.6 862.2 789.9 861.8 791C861.4 792.1 862 794 864.4 794.9C866.8 795.8 873.8 797.3 876.2 796.2C878.6 795.1 878.4 791.3 878.8 788.3C879.2 785.2 880.1 780.3 878.8 777.9C877.5 775.5 871.2 775.6 871 773.9C870.8 772.1 875.3 769.8 877.5 767.4C879.7 765 881.5 761 884.1 759.5C886.7 758 890.2 757.8 893.2 758.2C896.2 758.7 900 760.9 902.4 762.2C904.8 763.5 906 765.7 907.7 766.1C909.5 766.5 912.7 765.9 912.9 764.8C913.1 763.7 910.1 761.5 909 759.5C907.9 757.5 907.6 755.2 906.3 753C905 750.8 901.3 748.4 901.1 746.4C900.9 744.4 903.7 741 905 741.2C906.3 741.4 907.5 746 909 747.7C910.5 749.5 912.2 750.6 914.2 751.7C916.2 752.8 918.7 753.2 920.7 754.3C922.7 755.4 924 757.6 926 758.2C928 758.9 930.1 757.5 932.5 758.2C934.9 758.9 937.4 761.9 940.1 762.2C942.8 762.5 946.5 760.8 948.5 759.8C950.5 758.8 951.1 756.3 952.4 756.5C953.7 756.7 954.8 761.4 956.3 761.1C957.8 760.8 960.5 753.9 961.6 754.5C962.7 755.1 961.7 763.1 963 765C964.3 766.9 968.1 766.6 969.4 766C970.7 765.4 969.4 762.8 970.7 761.1C972 759.4 975.1 756.1 977.3 755.9C979.5 755.7 982 759.4 983.8 759.8C985.5 760.2 987.6 759.4 987.8 758.5C988 757.6 985.3 755.8 985.1 754.5C984.9 753.2 984.4 751.1 986.4 750.6C988.4 750.1 994 752.4 996.9 751.3C999.8 750.2 1001.8 746.4 1003.5 744.1C1005.2 741.8 1007 739.2 1007.4 737.5C1007.8 735.8 1005.9 735.6 1006.1 733.6C1006.3 731.6 1007.2 727.5 1008.7 725.7C1010.2 724 1012.7 724.2 1015.3 723.1C1017.9 722 1023.4 720.5 1024.4 719.2C1025.4 717.9 1021.2 716.6 1021.2 715.3C1021.2 714 1024.1 713 1024.4 711.3C1024.7 709.5 1022.6 706.8 1023.1 704.8C1023.6 702.8 1027.5 701.2 1027.7 699.5C1027.9 697.8 1024.3 695.2 1024.4 694.3C1024.5 693.4 1027.5 693.2 1028.4 694.3C1029.3 695.4 1029.1 699.6 1029.7 700.9C1030.3 702.2 1031.1 702.9 1032.3 702.2C1033.5 701.5 1035.7 698.9 1036.9 696.9C1038.1 694.9 1039 693 1039.5 690.4C1040 687.8 1040.6 683.6 1040.1 681.2C1039.5 678.8 1036 678.2 1036.2 676C1036.4 673.8 1040 671 1041.5 668.1C1043 665.2 1044.9 661.5 1045.4 658.9C1045.9 656.3 1044.3 654.8 1044.7 652.4C1045.1 650 1047.1 646.9 1048 644.5C1048.9 642.1 1049.6 640.4 1050 638C1050.4 635.6 1049.8 632.5 1050.6 630.1C1051.4 627.7 1053 625.6 1054.6 623.6C1056.2 621.6 1059.5 619.8 1060.4 618.3C1061.3 616.8 1060.2 616.1 1059.8 614.4C1059.4 612.7 1058.7 609.3 1057.8 607.9C1056.9 606.5 1056.9 604.8 1054.6 605.9C1052.3 607 1047.2 612.3 1044.1 614.4C1041 616.5 1039.2 618.5 1036.2 618.3C1033.2 618.1 1028 614.5 1026.4 613.1C1024.8 611.7 1025.4 610.7 1026.4 609.8C1027.4 608.9 1030.8 608.9 1032.3 607.9C1033.8 606.9 1035.5 604.8 1035.6 603.9C1035.7 603 1033.5 604.2 1032.8 602.5C1032.1 600.8 1032.3 596.1 1031.5 593.8C1030.7 591.5 1028.6 591.5 1027.8 588.8C1027 586.1 1026.5 581.5 1026.5 577.5C1026.5 573.5 1026.5 568.1 1027.8 565C1029 561.9 1032.5 560.9 1034 558.8C1035.5 556.7 1036 555.6 1036.5 552.5C1037 549.4 1037.5 543.5 1037.3 540C1037.1 536.5 1035.9 534.4 1035.3 531.3C1034.7 528.2 1033.1 524.4 1033.5 521.3C1033.9 518.2 1036.5 515.2 1037.8 512.5C1039 509.8 1040.6 507.5 1041 505C1041.4 502.5 1041 500.4 1040.3 497.5C1039.5 494.6 1037.8 491.2 1036.5 487.5C1035.2 483.8 1033.5 479.6 1032.8 475C1032 470.4 1031.6 463.3 1032 460C1032.4 456.7 1034.8 456.7 1035.3 455C1035.8 453.3 1036.5 452.3 1035.3 450C1034 447.7 1029.7 444.2 1027.8 441.3C1025.9 438.4 1025 436.1 1024 432.5C1023 428.9 1023.2 423.3 1021.5 420C1019.8 416.7 1016.9 415.8 1014 412.5C1011.1 409.2 1006.9 403.9 1004 400C1001.1 396.1 999 392.1 996.5 388.8C994 385.5 991.1 383.3 989 380C986.9 376.7 985.9 371.5 984 368.8C982.1 366.1 978.8 365.9 977.8 363.8C976.8 361.7 979.3 359 977.8 356.3C976.3 353.6 973 351.5 969 347.5C965 343.5 959 337.9 954 332.5C949 327.1 944.4 320.7 939 315C933.6 309.3 925.5 302.7 921.5 298.5C917.5 294.3 917.4 292.7 915.3 290C913.2 287.3 910.7 285.4 909 282.5C907.3 279.6 906.8 276 905.3 272.5C903.8 269 902.2 264.8 900.3 261.3C898.4 257.8 896.3 254.9 894 251.3C891.7 247.8 888.6 243.8 886.5 240C884.4 236.2 883.6 232.6 881.5 228.8C879.4 225.1 876.3 221.5 874 217.5C871.7 213.5 869.2 208.3 867.8 205C866.3 201.7 866.5 199.4 865.3 197.5C864 195.6 862 195.4 860.3 193.8C858.6 192.2 858 188.2 855.3 188C852.6 187.8 848 193.8 844 192.5C840 191.2 834.8 183.3 831.5 180C828.2 176.7 827.5 174.2 824 172.5C820.5 170.8 814 172.1 810.3 170C806.5 167.9 804.2 162.3 801.5 160C798.8 157.7 796.4 158.1 794 156.3C791.6 154.5 788.2 150.2 787 149"/>
<path d="M770 777.9C768.8 779.2 765.3 783.8 762.5 785.7C759.7 787.7 755.6 790 753.4 789.6C751.2 789.2 750.9 783.5 749.4 783.1C747.9 782.7 744.9 785 744.2 787C743.6 789 744.2 792.5 745.5 794.9C746.8 797.3 750.1 799.6 752.1 801.4C754.1 803.1 755.3 805.6 757.3 805.4C759.2 805.2 761.7 801.2 763.8 800.1C765.9 799 768 799 770.1 798.8C772.2 798.6 775.6 798.8 776.7 798.8"/>
<path d="M783.2 798.8C783 796.6 783 795.4 784.5 793.6C786 791.9 790 789.6 792.4 788.3C794.8 787 797.4 785.5 798.9 785.7C800.4 785.9 802 788.4 801.6 789.7C801.2 791 797 792.1 796.3 793.6C795.6 795.1 796.5 797 797.6 798.8C798.7 800.5 801.1 803 802.9 804.1C804.6 805.2 807.7 806.3 808.1 805.4C808.5 804.5 805.5 801 805.5 798.8C805.5 796.6 806.8 794 808.1 792.3C809.4 790.5 811.1 787.9 813.3 788.3C815.5 788.7 819.2 792.7 821.2 794.9C823.2 797.1 825.5 799.9 825.1 801.4C824.7 802.9 819 803.2 818.6 804.1C818.2 805 822.5 805 822.5 806.7C822.5 808.4 818.8 812.1 818.6 814.5C818.4 816.9 821.4 819.6 821.2 821.1C821 822.6 818.6 823.7 817.3 823.7C816 823.7 814.8 821.3 813.3 821.1C811.8 820.9 809.6 823.7 808.1 822.4C806.6 821.1 805.5 815.2 804.2 813.2C802.9 811.2 801.6 810.2 800.3 810.6C799 811 797.2 814.4 796.3 815.9C795.4 817.4 796.1 819.4 795 819.8C793.9 820.2 791.3 820.7 789.8 818.5C788.3 816.3 786.9 810 785.8 806.7C784.7 803.4 783.4 801 783.2 798.8Z"/>
<path d="M740 801.4C740.6 802.7 742.8 807.1 743.9 809.3C745 811.5 746.9 812.8 746.5 814.5C746.1 816.2 741.9 817.6 741.3 819.8C740.6 822 741.3 825.6 742.6 827.6C743.9 829.6 747 830.5 749.2 831.6C751.4 832.7 754.6 834.9 755.7 834.2C756.8 833.5 756.1 829.8 755.7 827.6C755.3 825.4 752.7 822.8 753.1 821.1C753.5 819.4 757.4 817.9 758.3 817.2"/>
<path d="M768.8 831.6C768.8 829.6 772.6 828.3 774.1 826.3C775.6 824.3 776.9 819.8 778 819.8C779.1 819.8 779.7 824.1 780.6 826.3C781.5 828.5 783.4 830.5 783.2 832.9C783 835.3 780.8 839.8 779.3 840.7C777.8 841.6 775.9 839.6 774.1 838.1C772.4 836.6 768.8 833.6 768.8 831.6Z"/>
<path d="M670.9 859.1C671.5 857.6 674.6 855.8 677.4 855.1C680.2 854.4 685.3 854.2 687.9 855.1C690.5 856 693.1 858.6 693.1 860.4C693.1 862.1 690.3 864.5 687.9 865.6C685.5 866.7 681.1 867.1 678.7 866.9C676.3 866.7 674.8 865.6 673.5 864.3C672.2 863 670.2 860.6 670.9 859.1Z"/>
<path d="M724.5 859.1C724.9 857.8 727.6 856.4 729.8 856.4C732 856.4 736 858 737.7 859.1C739.5 860.2 741.2 861.5 740.3 863C739.4 864.5 734.6 868 732.4 868.2C730.2 868.4 728.5 865.8 727.2 864.3C725.9 862.8 724.1 860.4 724.5 859.1Z"/>
<path d="M886.7 793.6C886.9 791.9 887.8 790.6 890.6 789.7C893.4 788.8 900 788.1 903.7 788.3C907.4 788.5 912.5 791.9 912.9 791C913.3 790.1 906.1 785.1 906.3 783.1C906.5 781.1 911.6 780.3 914.2 779.2C916.8 778.1 921.5 777.9 922.1 776.6C922.8 775.3 917.9 772.4 918.1 771.3C918.3 770.2 922.1 769.1 923.4 770C924.7 770.9 925.6 774 926 776.6C926.4 779.2 925.6 782.9 926 785.7C926.4 788.5 929 791.9 928.6 793.6C928.2 795.4 923.6 794.5 923.4 796.2C923.2 798 927.8 802.4 927.3 804.1C926.8 805.9 922.7 805.6 920.7 806.7C918.7 807.8 915.7 809.1 915.5 810.6C915.3 812.1 920 814.6 919.4 815.9C918.8 817.2 914.4 817.6 911.6 818.5C908.8 819.4 903.5 821.5 902.4 821.1C901.3 820.7 905.4 817.4 905 815.9C904.6 814.4 899.8 813.4 899.8 811.9C899.8 810.4 904.6 808.7 905 806.7C905.4 804.7 904.1 800.5 902.4 800.1C900.7 799.7 896.8 804.1 894.6 804.1C892.4 804.1 890.6 801.9 889.3 800.1C888 798.4 886.5 795.3 886.7 793.6Z"/>
<path d="M862 800.5C863.3 800.2 867.3 799.5 870 799C872.7 798.5 876.7 797.8 878 797.5"/>
<path d="M523.3 1040C523.6 1038.3 524.3 1035.7 525.8 1033.8C527.2 1031.9 529.7 1030.7 532 1028.8C534.3 1026.9 537 1024.8 539.5 1022.5C542 1020.2 543.2 1016.9 547 1015C550.8 1013.1 557.4 1012.6 562 1011.3C566.6 1010 569.9 1008 574.5 1007C579.1 1006 585.1 1006 589.5 1005C593.9 1004 596.6 1002.2 600.8 1001.3C605 1000.4 610.3 999.8 614.5 999.5C618.7 999.2 622.9 998.8 625.8 999.3C628.7 999.8 629.5 1001.1 632 1002.5C634.5 1003.9 638.5 1005.6 640.8 1007.5C643.1 1009.4 645.2 1011.5 645.8 1013.8C646.4 1016.1 646 1018.8 644.5 1021.3C643 1023.8 639.3 1026.5 637 1028.8C634.7 1031.1 632.2 1033.1 630.8 1035C629.3 1036.9 630.2 1039 628.3 1040C626.4 1041 622.2 1040.1 619.5 1040.8C616.8 1041.5 615.3 1043.4 612 1044.3C608.7 1045.2 603.2 1045.3 599.5 1046.3C595.8 1047.3 592.8 1049.7 589.5 1050.5C586.2 1051.3 583.2 1051.4 579.5 1051.3C575.8 1051.2 571.6 1050.2 567 1050C562.4 1049.8 555.5 1049.6 552 1050C548.5 1050.4 547.5 1051.4 545.8 1052.5C544.1 1053.6 543.2 1056.3 542 1056.8C540.8 1057.3 539.5 1056.4 538.3 1055.5C537 1054.6 536.2 1052.5 534.5 1051.3C532.8 1050 530 1049.2 528.3 1048C526.5 1046.8 524.8 1045.1 524 1043.8C523.2 1042.5 523 1041.7 523.3 1040Z"/>
<path d="M645.5 1014.2 L648 1013.8"/>
<path d="M1017.3 829.1C1018.9 828.8 1023.5 830.8 1026.1 829.6C1028.7 828.5 1030.9 823.7 1033.1 822.2C1035.2 820.7 1037.1 820.1 1039 820.7C1040.9 821.3 1043.4 823.9 1044.4 825.7C1045.4 827.5 1045.2 829.3 1044.9 831.6C1044.7 833.9 1043.7 836.9 1042.9 839.5C1042.1 842.1 1040.3 844.4 1040 847.4C1039.7 850.4 1041.2 855.3 1041 857.3C1040.8 859.3 1039.7 859.5 1039 859.2C1038.3 858.9 1037.5 856.6 1037 855.3C1036.5 854 1037.3 851.3 1036 851.3C1034.7 851.3 1030.8 853.8 1029.1 855.3C1027.4 856.8 1026.3 858.2 1026.1 860.2C1025.9 862.2 1027.6 865.1 1028.1 867.1C1028.6 869.1 1028.4 870.5 1029.1 872.1C1029.8 873.8 1032.3 875.7 1032.1 877C1031.9 878.3 1029.4 878.7 1028.1 880C1026.8 881.3 1025.3 883.4 1024.2 884.9C1023.1 886.4 1022.5 888 1021.2 888.8C1019.9 889.6 1017.4 890.1 1016.3 889.8C1015.1 889.5 1014.8 888 1014.3 886.9C1013.8 885.8 1013.8 884.2 1013.3 882.9C1012.8 881.6 1012.8 878.7 1011.3 879C1009.8 879.3 1006 883.6 1004.4 884.9C1002.8 886.2 1002.3 887.2 1001.5 886.9C1000.7 886.6 1000 884.2 999.5 882.9C999 881.6 998 879.6 998.5 879C999 878.4 1000.9 879.2 1002.4 879C1003.9 878.8 1007.4 878.5 1007.4 878C1007.4 877.5 1003.1 876.8 1002.4 876C1001.7 875.2 1002.2 873.6 1003.4 873.1C1004.6 872.6 1008.4 874.6 1009.4 873.1C1010.4 871.6 1009.1 866.7 1009.4 864.2C1009.7 861.7 1010.6 860.4 1011.3 858.2C1012 856.1 1012.6 853.1 1013.8 851.3C1014.9 849.5 1018 848.7 1018.2 847.4C1018.5 846.1 1016.3 844.2 1015.3 843.4C1014.3 842.6 1012.5 843.2 1012.3 842.4C1012.1 841.6 1013.6 840.3 1014.3 838.5C1015 836.7 1015.8 833.2 1016.3 831.6C1016.8 830 1015.7 829.4 1017.3 829.1Z"/>
<path d="M998.5 879C998.2 880.3 997.5 884.3 997 886.9C996.5 889.5 996 892.5 995.5 894.8C995 897.1 994.4 898.6 994.1 900.7C993.8 902.8 993.8 905.3 993.6 907.6C993.4 909.9 992.6 913.5 993.1 914.5C993.6 915.5 995.1 913 996.5 913.5C997.9 914 999.9 917.3 1001.5 917.5C1003.1 917.7 1004.8 915.8 1006.4 914.5C1008 913.2 1010.1 911.4 1011.3 909.6C1012.5 907.8 1013.4 905.7 1013.8 903.7C1014.2 901.7 1013.2 899.2 1013.8 897.7C1014.4 896.2 1016.9 895.9 1017.3 894.8C1017.7 893.6 1016.5 891.5 1016.3 890.8"/>
<path d="M1074.7 950.5C1077.1 950.1 1084.9 953.2 1087.2 955.1C1089.5 957 1087.6 960 1088.5 961.7C1089.4 963.5 1091.8 964.1 1092.4 965.6C1093.1 967.1 1094.2 969.7 1092.4 970.8C1090.7 971.9 1084 970.8 1081.9 972.1C1079.8 973.4 1081.2 978.2 1079.9 978.7C1078.6 979.2 1076 976.3 1074.1 974.8C1072.1 973.3 1068.9 971.5 1068.2 969.5C1067.5 967.5 1069.3 965 1070.1 963C1070.8 961 1071.9 959.8 1072.7 957.7C1073.5 955.6 1072.3 950.9 1074.7 950.5Z"/>
<path d="M1200.8 954.1C1200.5 954.2 1199.7 953.5 1199.1 954.5C1198.5 955.5 1198.3 958.9 1197.2 960.4C1196.1 961.9 1192.6 962.5 1192.6 963.6C1192.6 964.7 1196.5 965.5 1197.2 966.9C1197.9 968.3 1197.6 970.7 1196.5 972.2C1195.4 973.7 1192.6 974.8 1190.6 976.1C1188.6 977.4 1185.1 978.2 1184.7 980C1184.3 981.8 1187.9 984.6 1188 986.6C1188.1 988.6 1187.4 990.5 1185.4 991.8C1183.4 993.1 1178.8 993.4 1176.2 994.4C1173.6 995.4 1171.7 997.9 1169.7 997.7C1167.7 997.5 1165.6 994.7 1164.4 993.1C1163.2 991.5 1163.8 989.5 1162.5 987.9C1161.2 986.3 1158 983.2 1156.6 983.3C1155.2 983.4 1155.4 987.4 1153.9 988.5C1152.4 989.6 1148.9 988.8 1147.4 989.8C1145.9 990.8 1146.4 993.3 1144.8 994.4C1143.2 995.5 1138.2 995.1 1137.6 996.4C1136.9 997.7 1138.6 1001.3 1140.9 1002.3C1143.2 1003.3 1150.7 1001.4 1151.3 1002.3C1151.9 1003.2 1147.2 1006.4 1144.8 1007.5C1142.4 1008.6 1139.3 1008 1136.9 1008.8C1134.5 1009.6 1131.7 1010.8 1130.4 1012.1C1129.1 1013.4 1130 1015.5 1129.1 1016.7C1128.2 1017.9 1126.6 1019.3 1125.1 1019.3C1123.6 1019.3 1121.6 1017.9 1119.9 1016.7C1118.2 1015.5 1114.9 1013.4 1114.7 1012.1C1114.5 1010.8 1118.4 1010 1118.6 1008.8C1118.8 1007.6 1117.5 1006.1 1116 1004.9C1114.5 1003.7 1111.4 1001.8 1109.4 1001.6C1107.4 1001.4 1105.7 1003.7 1104.2 1003.6C1102.7 1003.5 1101.3 1000.1 1100.2 1001C1099.1 1001.9 1097.1 1006.4 1097.6 1008.8C1098 1011.2 1102.2 1013.6 1102.9 1015.4C1103.6 1017.1 1102.9 1019.3 1101.6 1019.3C1100.3 1019.3 1096.5 1016.7 1095 1015.4C1093.5 1014.1 1093.3 1011.2 1092.4 1011.4C1091.5 1011.6 1089.2 1015 1089.8 1016.7C1090.4 1018.5 1094 1020.4 1096.3 1021.9C1098.6 1023.4 1102.4 1024.4 1103.5 1025.9C1104.6 1027.4 1103.7 1029.4 1102.9 1031.1C1102.1 1032.8 1099.5 1034.3 1098.9 1036.3C1098.4 1038.3 1100.2 1042.2 1099.6 1042.9C1098.9 1043.6 1096 1042 1095 1040.3C1094 1038.5 1095.5 1034.2 1093.7 1032.4C1092 1030.7 1087.5 1029.8 1084.5 1029.8C1081.5 1029.8 1077.4 1033.1 1075.4 1032.4C1073.4 1031.8 1074.2 1026.1 1072.7 1025.9C1071.2 1025.7 1068.6 1030.9 1066.2 1031.1C1063.8 1031.3 1060.5 1028.3 1058.3 1027.2C1056.1 1026.1 1054.8 1024.3 1053.1 1024.5C1051.4 1024.7 1050.1 1027.2 1047.9 1028.5C1045.7 1029.8 1041.3 1031.8 1040 1032.4"/>
<path d="M1168.5 978.5C1168.8 979.4 1169.2 982.7 1170.5 984C1171.8 985.3 1174.2 986.5 1176.5 986.5C1178.8 986.5 1182.8 984.4 1184 984"/>
<path d="M1053.1 1024.5C1053.3 1025.8 1055.1 1030 1054.4 1032.4C1053.8 1034.8 1050.7 1036.8 1049.2 1039C1047.7 1041.2 1046.7 1043.1 1045.2 1045.5C1043.7 1047.9 1040.9 1052.1 1040 1053.4"/>
<path d="M1057 1036.3C1057.4 1037.4 1060 1041.4 1059.6 1042.9C1059.2 1044.4 1055.5 1044 1054.4 1045.5C1053.3 1047 1052.2 1050.5 1053.1 1052C1054 1053.5 1057 1053.8 1059.6 1054.7C1062.2 1055.6 1066.8 1055.8 1068.8 1057.3C1070.8 1058.8 1069.9 1062.9 1071.4 1063.8C1072.9 1064.7 1075.8 1061.2 1078 1062.5C1080.2 1063.8 1083.2 1069.5 1084.5 1071.7C1085.8 1074 1084.5 1075.4 1085.8 1076C1087.1 1076.6 1090.6 1074.5 1092.4 1075.2C1094.2 1075.9 1094.4 1079.7 1096.4 1080.1C1098.4 1080.5 1102.3 1077.3 1104.6 1077.6C1106.9 1077.9 1108.5 1080.5 1110.4 1081.7C1112.3 1082.9 1115.4 1083.5 1116.1 1085C1116.8 1086.5 1115.1 1088.8 1114.4 1090.7C1113.7 1092.6 1111.6 1094.5 1112 1096.4C1112.4 1098.3 1115.1 1100.2 1116.9 1102.2C1118.7 1104.2 1121.6 1106.9 1122.6 1108.7C1123.5 1110.5 1125.5 1113.1 1122.6 1112.8C1119.7 1112.5 1109.2 1107 1105.4 1107.1C1101.6 1107.2 1101.9 1113.5 1099.7 1113.6C1097.5 1113.7 1093.2 1110.4 1092.4 1107.9C1091.6 1105.5 1095.3 1100.7 1094.8 1098.9C1094.2 1097.1 1090 1097.6 1089.1 1097.3"/>
<path d="M1071 1063C1071.8 1061.6 1074.5 1060.3 1076 1060.5C1077.5 1060.7 1078.7 1063.8 1080 1064C1081.3 1064.2 1083 1061.5 1084 1062C1085 1062.5 1086.2 1065.3 1086 1067C1085.8 1068.7 1084.3 1071.7 1083 1072C1081.7 1072.3 1079.3 1068.8 1078 1069C1076.7 1069.2 1076.1 1073 1075 1073C1073.9 1073 1072.2 1070.7 1071.5 1069C1070.8 1067.3 1070.2 1064.4 1071 1063Z"/>
<path d="M1071.1 1074.4C1070.7 1076 1069.5 1081.4 1068.6 1084.2C1067.6 1087 1065.7 1089.2 1065.4 1091.5C1065.1 1093.8 1065.9 1096.2 1067 1098.1C1068.1 1100 1071 1101 1071.9 1103C1072.9 1105 1071.2 1108.2 1072.7 1110.4C1074.2 1112.6 1078.6 1115.1 1080.9 1116.1C1083.2 1117 1085.2 1115.1 1086.6 1116.1C1088 1117 1087.9 1120.3 1089.1 1121.8C1090.3 1123.3 1092.6 1123.6 1094 1125.1C1095.4 1126.6 1096.1 1129.8 1097.3 1130.8C1098.5 1131.8 1101.7 1129.3 1101.4 1130.8C1101.1 1132.3 1097.6 1136.8 1095.6 1139.8C1093.5 1142.8 1091.4 1146.6 1089.1 1148.8C1086.8 1151 1081.7 1152 1081.7 1152.9C1081.7 1153.9 1086.5 1155.2 1089.1 1154.5C1091.7 1153.8 1095.7 1150.6 1097.3 1148.8C1098.9 1147 1097.3 1145.4 1098.9 1143.9C1100.5 1142.4 1105.2 1141.4 1107.1 1139.8C1109 1138.2 1108.8 1136.4 1110.4 1134.1C1112 1131.8 1114.2 1127.3 1116.9 1125.9C1119.6 1124.5 1123.8 1126.9 1126.7 1125.9C1129.6 1125 1131.9 1121.3 1134.1 1120.2C1136.3 1119.1 1137.5 1119.3 1139.8 1119.4C1142.1 1119.5 1146.6 1120.7 1148 1121"/>
<path d="M1154.5 1110.4C1155.7 1109.7 1159 1107 1161.9 1106.3C1164.8 1105.6 1169 1105.6 1171.7 1106.3C1174.4 1107 1176.4 1108.1 1178.3 1110.4C1180.2 1112.7 1182.4 1117.2 1183.2 1120.2C1184 1123.2 1184 1126.2 1183.2 1128.4C1182.4 1130.6 1178.8 1131.8 1178.3 1133.3C1177.8 1134.8 1181.1 1135.9 1179.9 1137.4C1178.7 1138.9 1173.5 1141.3 1170.9 1142.3C1168.3 1143.2 1166.1 1142.1 1164.3 1143.1C1162.5 1144 1162.5 1146.6 1160.3 1148C1158.1 1149.4 1153.2 1151.4 1151.3 1151.3C1149.4 1151.2 1150.2 1148.4 1148.8 1147.2C1147.4 1146 1144 1145.5 1143.1 1143.9C1142.1 1142.3 1142.3 1138.6 1143.1 1137.4C1143.9 1136.2 1145.7 1137.9 1148 1136.5C1150.3 1135.1 1155.9 1131.1 1157 1129.2C1158.1 1127.3 1154.9 1125.8 1154.5 1125.1"/>
<path d="M1154.5 1110.4C1153.2 1110.7 1148.9 1112.5 1146.4 1112C1144 1111.5 1139.7 1108.6 1139.8 1107.1C1139.9 1105.6 1144.6 1104.2 1147.2 1103C1149.8 1101.8 1153.5 1101.5 1155.4 1099.7C1157.3 1097.9 1158.8 1094.4 1158.6 1092.4C1158.4 1090.4 1156.3 1090 1154.5 1087.5C1152.7 1085 1149.9 1080.8 1148 1077.6C1146.1 1074.4 1143.2 1069.8 1143.1 1068.6C1143 1067.4 1144.9 1071.2 1147.2 1070.3C1149.5 1069.3 1154.7 1065.1 1157 1062.9C1159.3 1060.7 1159 1056.9 1161.1 1057.2C1163.1 1057.5 1165.9 1063 1169.3 1064.5C1172.7 1066 1179.3 1065.1 1181.5 1066.2C1183.7 1067.3 1180.9 1069.7 1182.3 1071.1C1183.7 1072.5 1188.3 1072.2 1189.7 1074.4C1191.1 1076.6 1190.5 1081.2 1190.5 1084.2C1190.5 1087.2 1189.4 1089.8 1189.7 1092.4C1190 1095 1191 1098.1 1192.2 1099.7C1193.4 1101.3 1194.9 1100.6 1197.1 1102.2C1199.3 1103.8 1202.5 1107.5 1205.2 1109.5C1207.9 1111.5 1211.2 1112.8 1213.4 1114.4C1215.6 1116.1 1217.3 1118 1218.3 1119.4C1219.3 1120.8 1219.6 1121.5 1219.2 1122.6C1218.8 1123.7 1216.3 1124.7 1215.9 1125.9C1215.5 1127.1 1215.6 1128.8 1216.7 1130C1217.8 1131.2 1223 1132.5 1222.4 1133.3C1221.9 1134.1 1216 1134.1 1213.4 1134.9C1210.8 1135.7 1209.6 1137.1 1206.9 1138.2C1204.2 1139.3 1199.5 1140.2 1197.1 1141.4C1194.6 1142.6 1194.1 1144.3 1192.2 1145.5C1190.3 1146.7 1186.6 1147 1185.6 1148.8C1184.6 1150.6 1185.3 1154.7 1186.4 1156.2C1187.5 1157.7 1190.8 1158.3 1192.2 1157.8C1193.6 1157.2 1194.8 1154.4 1194.6 1152.9C1194.4 1151.4 1188.7 1150 1191.3 1148.8C1193.9 1147.6 1203.9 1146.6 1210.2 1145.5C1216.5 1144.4 1226.3 1142 1229 1142.3C1231.7 1142.6 1228.3 1145.4 1226.5 1147.2C1224.7 1149 1220.9 1151.1 1218.3 1152.9C1215.7 1154.7 1211.5 1156.3 1211 1157.8C1210.5 1159.3 1214 1160.2 1215.1 1161.9C1216.2 1163.6 1217.1 1167 1217.5 1168"/>
<path d="M1122 1160C1122.5 1160 1123.8 1160 1125.1 1160.3C1126.4 1160.6 1127.8 1162.1 1130 1161.9C1132.2 1161.8 1135.3 1160.1 1138.2 1159.4C1141.1 1158.7 1144.8 1157.5 1147.2 1157.8C1149.7 1158.1 1151.7 1159.4 1152.9 1161.1C1154.1 1162.8 1154.2 1166.8 1154.5 1168"/>
<path d="M1167.6 1168C1169.8 1166.8 1178 1161.8 1180.7 1161.1C1183.4 1160.3 1181.5 1163.5 1184 1163.5C1186.5 1163.5 1193.1 1160.3 1195.4 1161.1C1197.7 1161.8 1197.5 1166.8 1197.9 1168"/>
<path d="M1282 861.5C1280.7 861.8 1276.2 862 1274.1 863C1272 864 1270.3 866 1269.4 867.2C1268.5 868.4 1268 869.6 1268.8 870.1C1269.6 870.6 1271.9 870.5 1274.1 870.1C1276.3 869.7 1280.7 867.9 1282 867.5"/>
<path d="M1282 873.1C1280.5 873.4 1275.1 874.2 1273 874.9C1270.9 875.6 1271 877.1 1269.4 877.2C1267.8 877.3 1264.7 874.8 1263.5 875.4C1262.3 876 1262.6 879.1 1262.3 880.8C1262 882.5 1262.3 884.3 1261.7 885.5C1261.1 886.7 1258.6 886.9 1258.8 887.9C1259 888.9 1261.7 890 1262.9 891.4C1264.1 892.8 1265 894.4 1265.9 896.2C1266.8 898 1268.1 900.5 1268.2 902.1C1268.3 903.7 1267.6 904.5 1266.4 905.6C1265.2 906.7 1262.7 907.2 1261.1 908.6C1259.5 910 1257.3 912 1257 913.9C1256.7 915.8 1258.6 918.6 1259.3 919.8C1260 921 1260 920.8 1261.1 921C1262.2 921.2 1265.1 920.4 1265.9 921C1266.7 921.6 1266.1 923.8 1265.9 924.6C1265.7 925.4 1264.6 924.7 1264.7 925.7C1264.8 926.7 1266.2 928.7 1266.4 930.5C1266.6 932.3 1266.3 934.4 1265.9 936.4C1265.5 938.4 1264.9 941.9 1264.1 942.3C1263.3 942.7 1261.2 938.4 1261.1 938.8C1261 939.2 1262.3 943.9 1263.5 944.7C1264.7 945.5 1266.9 944.3 1268.2 943.5C1269.5 942.7 1270 940.9 1271.2 939.9C1272.4 938.9 1273.5 938.4 1275.3 937.6C1277.1 936.8 1280.9 935.4 1282 935"/>
<path d="M1259.9 945.9C1259.5 945.4 1259 943.3 1257.6 942.9C1256.2 942.5 1252.3 944 1251.7 943.5C1251.1 943 1254.6 940.7 1254 939.9C1253.4 939.1 1250.3 938.9 1248.1 938.8C1245.9 938.7 1242.8 938.7 1241 939.3C1239.2 939.9 1238.7 942.1 1237.5 942.3C1236.3 942.5 1235.1 940.7 1233.9 940.5C1232.7 940.3 1231.6 940.2 1230.4 941.1C1229.2 942 1228.2 944.5 1226.8 945.9C1225.4 947.3 1223.7 948.7 1222.1 949.4C1220.5 950.1 1219.3 950.1 1217.3 950C1215.3 949.9 1212 948.3 1210.2 948.8C1208.4 949.3 1208.3 952.1 1206.7 953C1205.1 953.9 1201.8 953.9 1200.8 954.1"/>
<path d="M1259.9 945.9C1260.6 946 1262.7 946.8 1264 946.5C1265.3 946.2 1267.3 944.4 1268 944"/>
<path d="M1282 949C1280.7 950.2 1275.6 954.6 1274.1 956.5C1272.6 958.4 1272.4 959.3 1273 960.1C1273.6 960.9 1276.2 961.7 1277.7 961.2C1279.2 960.7 1281.3 957.7 1282 957"/>
<path d="M1187.8 984.9C1187.6 985.9 1187.4 989.3 1186.6 990.8C1185.8 992.3 1185 993.2 1183 993.8C1181 994.4 1176.9 993.9 1174.7 994.4C1172.5 994.9 1170.8 996.3 1170 996.7"/>
<path d="M1249 384C1249.2 382 1250.8 380.2 1254 379C1257.2 377.8 1265.5 375.8 1268 377C1270.5 378.2 1270 383.5 1269 386C1268 388.5 1264.7 391.2 1262 392C1259.3 392.8 1255.2 392.3 1253 391C1250.8 389.7 1248.8 386 1249 384Z"/>
<path d="M1216 152.2 L1234 152.8"/>
<path d="M1277 153 L1279 157"/>
<path d="M280.8 151 L281.6 155"/>
<path d="M595.4 338.9C595.2 337.4 594.4 333.1 594.1 329.8C593.8 326.5 593.4 322.2 593.4 319.3C593.4 316.4 593.3 314 594.1 312.1C594.9 310.2 596 309.2 598 308.2C600 307.2 603.5 307 605.9 306.2C608.3 305.4 610 305.6 612.4 303.6C614.8 301.6 617.9 297.1 620.3 294.4C622.7 291.7 624.8 289.2 626.8 287.2C628.8 285.2 629.9 285.4 632 282.5C634.1 279.6 637 273.3 639.5 270C642 266.7 644.1 264.8 647 262.5C649.9 260.2 652 258.4 657 256.3C662 254.2 670.3 251.2 677 250C683.7 248.8 690.8 249.2 697 248.8C703.2 248.4 709.1 247.1 714.5 247.5C719.9 247.9 724.5 251.1 729.5 251.3C734.5 251.5 738.8 249.6 744.5 248.8C750.2 248.1 759.1 247.2 764 246.8C768.9 246.4 770.2 245.8 774 246.3C777.8 246.8 780.7 249.4 786.5 250C792.3 250.6 802.8 250.6 809 250C815.2 249.4 819.4 248.2 824 246.3C828.6 244.4 833.2 241.5 836.5 238.8C839.8 236.1 842.3 232.7 844 230C845.7 227.3 846.3 225 846.5 222.5C846.7 220 844.9 217.5 845.3 215C845.7 212.5 845.9 210 849 207.5C852.1 205 861.5 201.2 864 200"/>
<path d="M602.6 337.6C602.5 335.9 602.1 330.5 601.9 327.2C601.7 323.9 600.8 320.2 601.3 318C601.8 315.8 603.1 315.1 605.2 314.1C607.3 313.1 611 313.4 613.7 312.1C616.4 310.8 619.2 308.5 621.6 306.2C624 303.9 625.9 300.8 628.1 298.3C630.3 295.8 632.4 294.6 634.7 291.1C637 287.6 639.5 281.2 642 277.5C644.5 273.8 646.2 271.5 649.5 268.8C652.8 266.1 656.6 263.4 662 261.3C667.4 259.2 673.2 257.4 682 256.3C690.8 255.2 706.6 254.6 714.5 255C722.4 255.4 724.5 258.6 729.5 258.8C734.5 259 738.8 257 744.5 256.3C750.2 255.6 759.1 255 764 254.4C768.9 253.8 771.1 251.8 774 252.5C776.9 253.2 777.8 257.6 781.5 258.8C785.2 260.1 791.5 259.8 796.5 260C801.5 260.2 806.5 260.8 811.5 260C816.5 259.2 821.5 257.3 826.5 255C831.5 252.7 837.3 249.6 841.5 246.3C845.7 243 849.4 238.6 851.5 235C853.6 231.4 853.6 227.9 854 225C854.4 222.1 853.4 219.6 854 217.5C854.6 215.4 855.7 214.2 857.8 212.5C859.9 210.8 865 208.3 866.5 207.5"/>
<path d="M607.8 345.5C608 343.3 608.9 336.1 609.1 332.4C609.3 328.7 607.7 325.3 609.1 323.2C610.5 321.1 614.7 321.5 617.6 319.9C620.5 318.3 624.2 315.9 626.8 313.4C629.4 310.9 630.9 308.8 633.4 304.9C635.9 301 639.3 294.4 642 290C644.7 285.6 647 281.7 649.5 278.8C652 275.9 653.2 274.6 657 272.5C660.8 270.4 666.2 267.9 672 266.3C677.8 264.7 684.9 263.6 692 263C699.1 262.4 708.2 261.8 714.5 262.5C720.8 263.2 724.5 267.2 729.5 267.5C734.5 267.8 738.8 265.4 744.5 264.5C750.2 263.6 759.5 262.4 764 261.9C768.5 261.4 769 260.4 771.5 261.3C774 262.2 775.2 266.2 779 267.5C782.8 268.8 788.2 268.6 794 268.8C799.8 269 807.8 269.9 814 268.8C820.2 267.8 826.1 265 831.5 262.5C836.9 260 841.9 257.6 846.5 253.8C851.1 250.1 856.3 244.2 859 240C861.7 235.8 862.2 232.1 862.8 228.8C863.4 225.5 861.8 222.3 862.8 220C863.8 217.7 868 215.8 869 215"/>
<path d="M910.7 1123C911.5 1121.8 914.6 1120.1 916.1 1120.7C917.6 1121.3 917.6 1126 919.6 1126.6C921.6 1127.2 924.9 1125.5 927.9 1124.2C930.9 1122.9 935.2 1120.7 937.4 1118.9C939.6 1117.1 939.3 1114.7 940.9 1113.6C942.5 1112.5 945.1 1111.8 946.8 1112.4C948.5 1113 951.1 1115.3 951 1117C950.9 1118.7 947.5 1120.9 946 1122.5C944.5 1124.1 942.6 1124.7 942.1 1126.6C941.6 1128.5 942.1 1131.7 943.3 1133.7C944.5 1135.7 947.6 1136.8 949.2 1138.4C950.8 1140 953.8 1142.2 952.8 1143.2C951.8 1144.2 946.3 1144.5 943.3 1144.3C940.3 1144.1 937 1141.8 935 1142C933 1142.2 931.2 1144.1 931.4 1145.5C931.6 1146.9 936.2 1148.7 936.2 1150.3C936.2 1151.9 933 1154.8 931.4 1155C929.8 1155.2 928.3 1152.6 926.7 1151.5C925.1 1150.4 924.2 1148.5 922 1148.5C919.8 1148.5 916.3 1151.5 913.7 1151.5C911.1 1151.5 908.2 1149.5 906.6 1148.5C905 1147.5 904 1147 904.2 1145.5C904.4 1144 906.4 1140.6 907.8 1139.6C909.2 1138.6 911.5 1140.6 912.5 1139.6C913.5 1138.6 913.9 1135.7 913.7 1133.7C913.5 1131.7 911.8 1129.6 911.3 1127.8C910.8 1126 909.9 1124.2 910.7 1123Z"/>
<path d="M939.7 1121.8C940.7 1120.2 943.7 1113.9 945.7 1112.5C947.7 1111.1 950.1 1114.5 951.6 1113.6C953.1 1112.7 953.6 1107.5 955 1107C956.4 1106.5 958.8 1110.8 960 1110.5C961.2 1110.2 962.5 1106.9 962.2 1105.3C961.9 1103.7 957.9 1102.2 958 1101C958.1 1099.8 961.7 1099.3 963 1098C964.3 1096.7 965.3 1093.8 965.8 1093"/>
<path d="M951.6 1119C952.6 1118.2 955.8 1115.9 957.5 1114.5C959.2 1113.1 960.7 1112.4 962 1110.5C963.3 1108.6 964.5 1105.2 965.5 1103C966.5 1100.8 967.6 1098 968 1097"/>
<path d="M969.3 1091.4C969.7 1093.3 971.1 1099.2 971.7 1102.9C972.3 1106.6 971.9 1111.4 972.9 1113.6C973.9 1115.8 976.6 1116.5 977.6 1115.9C978.6 1115.3 977.8 1111 978.8 1110C979.8 1109 982.8 1111.2 983.6 1110C984.4 1108.8 984 1104.5 983.6 1102.9C983.2 1101.3 980.6 1101.5 981.2 1100.5C981.8 1099.5 985.3 1097.8 987.1 1097C988.9 1096.2 990.6 1096.8 991.8 1095.8C993 1094.8 993.8 1091.9 994.2 1091.1"/>
<path d="M977 1090.5C978.1 1090.2 980.9 1089.4 983.6 1088.7C986.3 1088 991.4 1086.7 993 1086.3"/>
<path d="M1020.3 1059.1C1019.5 1057.9 1020.5 1055.3 1021.5 1054.3C1022.5 1053.3 1024.6 1054 1026.2 1053.2C1027.8 1052.4 1030.3 1051 1030.9 1049.6C1031.5 1048.2 1028.9 1046.7 1029.7 1044.9C1030.5 1043.1 1034.5 1040.9 1035.7 1038.9C1036.9 1036.9 1035.4 1034.4 1036.8 1033C1038.2 1031.6 1041.9 1031.9 1043.9 1030.7C1045.9 1029.5 1047.1 1027.1 1048.7 1025.9C1050.3 1024.7 1052.2 1023.2 1053.4 1023.6C1054.6 1024 1056 1026.3 1055.8 1028.3C1055.6 1030.3 1053.6 1033.2 1052.2 1035.4C1050.8 1037.6 1048.7 1039.3 1047.5 1041.3C1046.3 1043.3 1046.5 1045 1045.1 1047.2C1043.7 1049.4 1041.4 1052.3 1039.2 1054.3C1037 1056.3 1034.3 1057.9 1032.1 1059.1C1029.9 1060.3 1028.2 1061.4 1026.2 1061.4C1024.2 1061.4 1021.1 1060.3 1020.3 1059.1Z"/>
<ellipse cx="295.5" cy="334.3" rx="5" ry="4" transform="rotate(-40 295.5 334.3)"/>
<ellipse cx="570.5" cy="422.8" rx="4.6" ry="3.8" transform="rotate(-20 570.5 422.8)"/>
<ellipse cx="408.8" cy="827.5" rx="3.5" ry="6.5" transform="rotate(35 408.8 827.5)"/>
<ellipse cx="705.5" cy="822.5" rx="5" ry="5" transform="rotate(0 705.5 822.5)"/>
<ellipse cx="772.7" cy="849.9" rx="7" ry="3.5" transform="rotate(30 772.7 849.9)"/>
<ellipse cx="876.2" cy="805.8" rx="5" ry="5.5" transform="rotate(0 876.2 805.8)"/>
<ellipse cx="847.4" cy="803.4" rx="4.5" ry="3.5" transform="rotate(0 847.4 803.4)"/>
<ellipse cx="940" cy="769" rx="2.5" ry="3.5" transform="rotate(0 940 769)"/>
<ellipse cx="583.1" cy="908.8" rx="7" ry="4.5" transform="rotate(-25 583.1 908.8)"/>
<ellipse cx="589.6" cy="898.4" rx="4.5" ry="4.5" transform="rotate(0 589.6 898.4)"/>
<ellipse cx="601.4" cy="902.3" rx="3.5" ry="3.5" transform="rotate(0 601.4 902.3)"/>
<ellipse cx="601.4" cy="910.1" rx="4" ry="4.5" transform="rotate(0 601.4 910.1)"/>
<ellipse cx="637.4" cy="902.9" rx="6.5" ry="5.5" transform="rotate(0 637.4 902.9)"/>
<ellipse cx="1051.8" cy="1011.4" rx="7" ry="4" transform="rotate(-10 1051.8 1011.4)"/>
<ellipse cx="984.8" cy="1044.5" rx="6.5" ry="4.5" transform="rotate(-15 984.8 1044.5)"/>
<ellipse cx="946.8" cy="1118.5" rx="4.8" ry="5.2" transform="rotate(0 946.8 1118.5)"/>
</g>
<g fill="#000" stroke="#000" stroke-width="2.4" stroke-linejoin="round">
<path d="M376 352.6C376.2 351.5 378 349.5 380 348C382 346.5 385.4 344.5 388 343.5C390.6 342.5 394.9 341.7 395.7 342.2C396.5 342.7 394.8 344.9 393 346.5C391.2 348.1 387.3 350.2 385 351.5C382.7 352.8 380.5 354.3 379 354.5C377.5 354.7 375.8 353.7 376 352.6Z"/>
<path d="M404 341C404.3 340.2 407.3 339.7 409 339.5C410.7 339.3 413.3 339.4 414 340C414.7 340.6 414.2 342.3 413 343C411.8 343.7 408.5 344.3 407 344C405.5 343.7 403.7 341.8 404 341Z"/>
<path d="M600.6 355C601.4 354.4 603.2 353.6 605 354C606.8 354.4 609 356.1 611.1 357.3C613.2 358.5 616.5 360 617.6 361C618.8 362 619.3 363.2 618 363.5C616.7 363.8 612.4 363.5 610 363C607.6 362.5 605.2 361.4 603.5 360.5C601.8 359.6 600.5 358.4 600 357.5C599.5 356.6 599.8 355.6 600.6 355Z"/>
<path d="M623 611C625.9 609.5 633.4 608.5 635.6 608.5C637.8 608.5 637.4 609.9 636 611C634.6 612.1 630 613.9 627 615C624 616.1 618.7 618.2 618 617.5C617.3 616.8 620.1 612.5 623 611Z"/>
<path d="M586 586C587.2 585.8 589.7 586.9 591 588C592.3 589.1 594.5 591.8 594 592.5C593.5 593.2 589.7 592.5 588 592C586.3 591.5 584.3 590.5 584 589.5C583.7 588.5 584.8 586.2 586 586Z"/>
<path d="M603 682C603.9 681.9 605.1 684.2 606 686C606.9 687.8 608.8 691.8 608.5 692.5C608.2 693.2 605.3 691.5 604 690.5C602.7 689.5 600.7 687.9 600.5 686.5C600.3 685.1 602.1 682.1 603 682Z"/>
<path d="M566 716C567.2 716.1 570.7 718.2 571.5 719C572.3 719.8 572.2 721.1 571 721C569.8 720.9 564.8 719.3 564 718.5C563.2 717.7 564.8 715.9 566 716Z"/>
<path d="M586 545C587.3 544.1 594.3 542.9 596 543C597.7 543.1 597.3 544.6 596 545.5C594.7 546.4 589.7 548.6 588 548.5C586.3 548.4 584.7 545.9 586 545Z"/>
<path d="M562 717C562.8 716.4 566.4 716.2 567.5 716.5C568.6 716.8 569.2 718.4 568.5 719C567.8 719.6 564.1 720.3 563 720C561.9 719.7 561.2 717.6 562 717Z"/>
<path d="M538 792C539.2 790.3 543.3 789.8 546 790C548.7 790.2 552.8 791.2 554 793C555.2 794.8 554.3 799.3 553 801C551.7 802.7 548.3 803.2 546 803C543.7 802.8 540.3 801.8 539 800C537.7 798.2 536.8 793.7 538 792Z"/>
<path d="M546 777.5C548.5 776.8 559.7 776.6 563 777C566.3 777.4 567.2 779.2 566 780C564.8 780.8 559 781.8 556 782C553 782.2 549.7 781.8 548 781C546.3 780.2 543.5 778.2 546 777.5Z"/>
<path d="M578 841C579 840.3 583 841.2 584 842C585 842.8 585 845.3 584 846C583 846.7 579 846.8 578 846C577 845.2 577 841.7 578 841Z"/>
<path d="M1023 692C1023.5 691.2 1025.8 690.3 1027 691C1028.2 691.7 1030 694.8 1030 696C1030 697.2 1028 698 1027 698C1026 698 1024.7 697 1024 696C1023.3 695 1022.5 692.8 1023 692Z"/>
<path d="M655.5 872C655.9 870.5 658.6 870.5 660 871C661.4 871.5 662.3 874 664 875C665.7 876 669.2 876 670 877C670.8 878 670.3 879.8 669 881C667.7 882.2 663.9 884.2 662 884C660.1 883.8 658.6 882 657.5 880C656.4 878 655.1 873.5 655.5 872Z"/>
<path d="M845 829C846.1 827.9 849.7 827.2 852 827.5C854.3 827.8 858 829.2 859 830.5C860 831.8 859.5 834.5 858 835.5C856.5 836.5 852.1 836.8 850 836.5C847.9 836.2 846.3 835.2 845.5 834C844.7 832.8 843.9 830.1 845 829Z"/>
<path d="M697.5 919C698 918.4 699.8 918.7 701 920C702.2 921.3 705 925.9 705 927C705 928.1 702.2 927.1 701 926.5C699.8 925.9 698.6 924.8 698 923.5C697.4 922.2 697 919.6 697.5 919Z"/>
<path d="M1013 873.5C1013.8 871.7 1016.6 870.7 1018 871C1019.4 871.3 1021.1 873.5 1021.5 875.5C1021.9 877.5 1021.3 881.1 1020.5 883C1019.7 884.9 1017.7 887.2 1016.5 887C1015.3 886.8 1014.1 884.2 1013.5 882C1012.9 879.8 1012.2 875.3 1013 873.5Z"/>
<path d="M1003 874C1004.2 873.3 1009.7 873 1011 873.5C1012.3 874 1012.2 876.3 1011 877C1009.8 877.7 1005.3 878 1004 877.5C1002.7 877 1001.8 874.7 1003 874Z"/>
<path d="M1011 856C1011.7 854.8 1015 854.3 1016 855C1017 855.7 1017.7 858.8 1017 860C1016.3 861.2 1013 862.7 1012 862C1011 861.3 1010.3 857.2 1011 856Z"/>
<path d="M1025 866C1025.5 864.8 1029 864.2 1030 865C1031 865.8 1031.5 869.8 1031 871C1030.5 872.2 1028 872.8 1027 872C1026 871.2 1024.5 867.2 1025 866Z"/>
<path d="M1011 840C1011.5 839 1014.2 838.3 1015 839C1015.8 839.7 1016.5 843 1016 844C1015.5 845 1012.8 845.7 1012 845C1011.2 844.3 1010.5 841 1011 840Z"/>
<path d="M1067.5 966C1067.7 964.6 1070.1 963.2 1071 964C1071.9 964.8 1072.3 969.1 1073 971C1073.7 972.9 1075.5 975.2 1075 975.5C1074.5 975.8 1071.2 974.1 1070 972.5C1068.8 970.9 1067.3 967.4 1067.5 966Z"/>
<path d="M1142 1000.5C1143.7 999.8 1149.8 999.5 1151.5 1000C1153.2 1000.5 1152.9 1002.5 1152 1003.5C1151.1 1004.5 1147.8 1005.9 1146 1006C1144.2 1006.1 1142.2 1004.9 1141.5 1004C1140.8 1003.1 1140.3 1001.2 1142 1000.5Z"/>
<path d="M1168 977C1168.3 976.1 1170.8 976.5 1171.5 977.5C1172.2 978.5 1172.8 982.1 1172.5 983C1172.2 983.9 1170.2 984 1169.5 983C1168.8 982 1167.7 977.9 1168 977Z"/>
<path d="M1113 1010C1113.2 1009.2 1115.7 1009.8 1117 1011C1118.3 1012.2 1121.2 1016.2 1121 1017C1120.8 1017.8 1117.3 1016.7 1116 1015.5C1114.7 1014.3 1112.8 1010.8 1113 1010Z"/>
<path d="M1098 1016C1098.7 1015.3 1101.8 1014.8 1102.5 1015.5C1103.2 1016.2 1103.2 1019.8 1102.5 1020.5C1101.8 1021.2 1099.2 1020.2 1098.5 1019.5C1097.8 1018.8 1097.3 1016.7 1098 1016Z"/>
<path d="M1074 1063.5C1074.5 1062.4 1077.9 1062.2 1079 1063C1080.1 1063.8 1081 1066.9 1080.5 1068C1080 1069.1 1077.1 1070.2 1076 1069.5C1074.9 1068.8 1073.5 1064.6 1074 1063.5Z"/>
<path d="M1090 1095.5C1090.3 1094.6 1093.8 1094.4 1095 1095C1096.2 1095.6 1097.3 1098.1 1097 1099C1096.7 1099.9 1094.2 1101.1 1093 1100.5C1091.8 1099.9 1089.7 1096.4 1090 1095.5Z"/>
<path d="M1093 1131C1094.3 1129.8 1100.5 1129.2 1101.5 1130C1102.5 1130.8 1100.3 1134.8 1099 1136C1097.7 1137.2 1094.5 1137.8 1093.5 1137C1092.5 1136.2 1091.7 1132.2 1093 1131Z"/>
<path d="M1081 1151C1082 1150.1 1086.5 1149.3 1088 1150C1089.5 1150.7 1091 1154.1 1090 1155C1089 1155.9 1083.5 1156.2 1082 1155.5C1080.5 1154.8 1080 1151.9 1081 1151Z"/>
<path d="M1114.5 1123.5C1115.2 1122.8 1118.2 1123.2 1119 1124C1119.8 1124.8 1119.7 1127.3 1119 1128C1118.3 1128.7 1115.8 1128.8 1115 1128C1114.2 1127.2 1113.8 1124.2 1114.5 1123.5Z"/>
<path d="M953 1108C954 1106.5 957.2 1105.7 959 1104C960.8 1102.3 962.7 1098.7 964 1098C965.3 1097.3 967.2 1098.3 967 1100C966.8 1101.7 964.7 1105.7 963 1108C961.3 1110.3 958.7 1113.2 957 1114C955.3 1114.8 953.7 1114 953 1113C952.3 1112 952 1109.5 953 1108Z"/>
<path d="M969 1092C969.7 1090.5 973.4 1091 974.5 1093C975.6 1095 975.2 1100.7 975.5 1104C975.8 1107.3 976.6 1111.7 976 1113C975.4 1114.3 972.9 1113.8 972 1112C971.1 1110.2 971 1105.3 970.5 1102C970 1098.7 968.3 1093.5 969 1092Z"/>
<path d="M972.9 1089.9C972.3 1088.3 972.3 1083.8 973.2 1082C974.1 1080.2 977.5 1080.7 978.5 1079C979.5 1077.3 979 1074.2 979.5 1072C980 1069.8 980.7 1067.9 981.5 1066C982.3 1064.1 983.5 1061.2 984.5 1060.5C985.5 1059.8 987.1 1060.4 987.5 1062C987.9 1063.6 987.4 1067.2 987 1070C986.6 1072.8 985.9 1076 985 1079C984.1 1082 982.8 1085.9 981.5 1088C980.2 1090.1 978.4 1091.2 977 1091.5C975.6 1091.8 973.5 1091.5 972.9 1089.9Z"/>
<path d="M1020.5 1058.5C1019.9 1057.4 1021.1 1055.1 1022.5 1054.5C1023.9 1053.9 1027.6 1054.3 1029 1055C1030.4 1055.7 1031.5 1057.5 1031 1058.5C1030.5 1059.5 1027.8 1061.2 1026 1061.2C1024.2 1061.2 1021.1 1059.6 1020.5 1058.5Z"/>
<path d="M869 768C869.9 766.9 872.2 765.7 874 765.5C875.8 765.3 878.8 765.8 880 767C881.2 768.2 881.5 771.3 881 773C880.5 774.7 878.7 776.5 877 777C875.3 777.5 872.4 776.8 871 776C869.6 775.2 868.8 773.3 868.5 772C868.2 770.7 868.1 769.1 869 768Z"/>
<ellipse cx="310" cy="225" rx="2.5" ry="2.5" transform="rotate(0 310 225)"/>
<ellipse cx="292" cy="314.5" rx="4" ry="2" transform="rotate(0 292 314.5)"/>
<ellipse cx="346" cy="333.6" rx="4" ry="3" transform="rotate(-30 346 333.6)"/>
<ellipse cx="368.2" cy="336.9" rx="6" ry="2.5" transform="rotate(-25 368.2 336.9)"/>
<ellipse cx="453.9" cy="316.7" rx="5" ry="3.5" transform="rotate(-20 453.9 316.7)"/>
<ellipse cx="450.7" cy="358.5" rx="2.6" ry="2.6" transform="rotate(0 450.7 358.5)"/>
<ellipse cx="635" cy="418.5" rx="3" ry="2.5" transform="rotate(0 635 418.5)"/>
<ellipse cx="541.9" cy="681.8" rx="6.5" ry="3" transform="rotate(-30 541.9 681.8)"/>
<ellipse cx="508.5" cy="840.5" rx="7" ry="8.5" transform="rotate(0 508.5 840.5)"/>
<ellipse cx="771.5" cy="851" rx="1" ry="1" transform="rotate(0 771.5 851)"/>
<ellipse cx="766.5" cy="846" rx="3" ry="3.5" transform="rotate(0 766.5 846)"/>
<ellipse cx="593" cy="904" rx="2" ry="2" transform="rotate(0 593 904)"/>
<ellipse cx="507" cy="885.5" rx="5" ry="2.8" transform="rotate(0 507 885.5)"/>
</g>
<g fill="none" stroke="#000" stroke-width="4.6" stroke-linejoin="round" stroke-linecap="round">
<path d="M610.9 160.6L587.6 184.9M591.9 180.3L585.7 177.2M698.2 167.4L668.6 184.1L658.4 174.5M784.7 176.9L761.1 199.9L748.9 193.2M872 184.1L842.3 170.9L844 157M958.9 192.3L926.9 192.5L922.7 179.2M1045.6 201.1L1013.7 193.2M1019.7 194.7L1019.3 187.7M1132.6 210.4L1099.9 205.6M1106.1 206.5L1105 199.6M1219.6 219.4L1188.2 214.6L1186.1 200.8M1307.1 228.9L1273.4 226.6M1279.6 227L1278 220.2M76.9 189.5L110.6 188M104.4 188.3L106.7 194.9M164.9 195L197.6 193.5M191.4 193.8L193.7 200.4M251.9 200.9L285.1 197.6M278.9 198.2L281.6 204.6M339.4 206.4L371.6 198.9M365.5 200.3L369.1 206.3M774.8 243.5L803.3 262.2M798.1 258.8L796.2 265.5M861.5 251.8L834.3 269.5L823.5 260.6M948.3 259.9L940.5 228.4M942 234.4L948 230.8M1034.4 269L1001.9 268.8M1008.1 268.8L1006.1 262.2M1120.6 277.4L1089.2 273.9L1086.5 260.2M1207.1 287L1175.7 288.8L1170.8 275.7M1295.8 295.6L1262.4 302.8L1255.5 290.7M69.9 257.2L102.1 265.8M96.1 264.2L96.4 271.1M156.9 262.8L189.1 272.7M183.2 270.9L183.2 277.9M243.8 269.4L274.2 284.1M268.6 281.4L267.5 288.3M324.2 270.5L353.8 291.5M348.7 287.9L346.5 294.5M417.8 282.4L447.7 297.6M442.1 294.8L441 301.6M851 321.4L856.3 352.1M855.3 346L849.1 349.2M937.9 328.6L969.4 322M963.3 323.3L966.7 329.4M1023.2 336.7L992.8 325.3M998.7 327.5L999.1 320.5M1109.4 346.8L1076.9 345M1083.1 345.4L1081.4 338.6M1195.4 355.6L1163.4 359.2M1169.6 358.5L1166.8 352.1M1283.1 363.5L1249.7 370.3L1242.9 358.1M63.3 326.3L90.5 342.8M85.2 339.6L83.5 346.4M150 332.5L175.6 352.3M170.6 348.4L168.2 355M236.5 338.4L261.8 358.4M256.9 354.6L254.4 361.1M323.2 344.3L349.3 363.3M344.2 359.6L342 366.2M409.1 350.4L438.7 365.4M433.1 362.6L432 369.5M496.6 357.9L525 371.6M519.4 368.9L518.3 375.8M841.2 388.2L872.4 397.3M866.4 395.5L866.6 402.5M926.1 397.3L895.4 406.7M901.3 404.9L897.4 399.1M1012.4 405.9L1016.9 437.9M1016 431.7L1009.7 434.7M1098.5 414.5L1079 440.6M1082.8 435.6L1076.2 433.3M1184.1 423.6L1152.9 434.2M1158.8 432.2L1154.7 426.6M1269.9 433.2L1237.2 427.6L1235.3 413.8M56.1 394.7L76.2 419.6M72.3 414.7L68.4 420.6M142.5 400.6L166.3 422.7M161.8 418.5L158.8 424.8M228.6 407L250.7 430.8M246.5 426.3L243 432.3M315 413.4L339.8 432.7M334.9 428.9L332.4 435.4M400.2 419.3L427.1 438.8M422 435.1L419.8 441.7M487.2 426.1L519.8 436M513.9 434.2L513.9 441.2M572.9 433.2L605.8 442.2M599.8 440.5L600.1 447.5M830.7 456.3L863.1 455M856.9 455.3L859.2 461.8M915.8 464.9L910 432.9M911.1 439L917.3 435.8M1001.9 474L970.7 479.8L964.1 467.5M1087.7 483.1L1063.9 506.2M1068.4 501.8L1062.3 498.5M1172.5 491.6L1142.1 503.5L1133.4 492.6M1257.4 501.4L1225.2 505.7L1219.3 493M48.7 463.1L73.8 483.4M69 479.5L66.4 486M135.1 469.4L157.4 492.2M153 487.7L149.7 493.8M221.1 475.7L242.4 498.8M238.2 494.2L234.7 500.3M307 481.9L330.6 502.7M325.9 498.6L323.1 505M392.2 488L418.8 505.8M413.6 502.3L411.6 509M478.1 495.2L498.9 518.1M494.7 513.5L491.2 519.5M649 509.9L672.6 531.4M668 527.2L665.1 533.5M735.4 517.1L767.1 527M761.2 525.2L761.2 532.1M990.1 541.6L959.4 551.5M965.3 549.6L961.3 543.9M1075.6 551L1043.7 558.6M1049.8 557.2L1046.2 551.2M1160.7 560.7L1138.1 584.3M1142.4 579.8L1136.2 576.7M1245.7 570L1223.1 593.6M1227.4 589.1L1221.2 586M41.8 532.2L60.3 558.1M56.6 553L52.4 558.6M128 538.5L147 563.8M143.2 558.8L139.1 564.4M213.1 544.5L233.2 569.3L225.5 580.9M298 550.7L317.8 576.3L309.7 587.7M383.9 557.7L405.2 580.6M400.9 576.1L397.5 582.1M469 563.9L493.8 585.7M489.1 581.6L486.3 588M725.4 585.9L757.4 587.9M751.2 587.5L752.8 594.3M809.8 594.2L838.2 610.1M832.8 607L831.3 613.9M895.3 602.3L925.7 614.7M919.9 612.3L919.3 619.3M980.2 610.4L976.1 578.4M976.9 584.6L983.2 581.7M1064.7 620.7L1044.6 643.1M1048.8 638.5L1042.4 635.6M1149.8 629.2L1143.2 660.4M1144.5 654.3L1137.5 655M1234.3 638.9L1233 670.9M1233.3 664.7L1226.5 666.5M34.8 601.3L46.7 631L35.8 639.8M120.3 607.1L131.5 636.7M129.3 630.8L123.8 635.1M205.6 613.2L226.9 636.8M222.7 632.2L219.2 638.2M290.5 618.7L310.3 644.3M306.4 639.3L302.4 645.1M375.5 625.8L392.8 653M389.5 647.8L385 653.1M460.6 633.2L480.7 658.1M476.8 653.2L472.9 659.1M545.6 640.2L566.4 664.3M562.3 659.6L558.7 665.5M714.4 655.2L712.1 687.1M712.5 680.9L705.7 682.5M884.7 670.5L911.6 689.5M906.5 685.9L904.3 692.5M968.9 680.2L948.4 703.8M952.5 699.1L946.1 696.3M1053.7 688.9L1043.6 718.6M1045.6 712.7L1038.6 712.6M1138.1 697.9L1130.2 728.6L1116.3 729.4M1222 707.2L1223.3 739.1M1223 732.9L1216.4 735.2M112.6 676.4L116.7 707.9M115.9 701.7L109.5 704.6M197.8 682.1L208.5 711.7M206.4 705.8L200.8 710M283 688.2L300.8 715.1M297.3 709.8L293 715.3M367.4 695.3L381.6 723L371.6 732.8M452.3 702.1L463.5 731M461.2 725.1L455.8 729.5M537 709.1L554 736.7M550.8 731.4L546.2 736.7M706.2 723.8L719.1 752.5M716.6 746.8L711.3 751.4M789.4 731.4L755.5 736.2M761.7 735.3L758.7 729M874.1 739.7L877.9 773.6M877.2 767.4L870.8 770.2M1042.8 757.7L1042.3 789.9M1042.4 783.7L1035.7 785.6M1126.8 766.4L1137 797.1M1135 791.2L1129.4 795.3M1210 775.9L1210.5 807.9M1210.4 801.7L1203.8 803.8M105.3 745.2L98.5 776.1M99.8 770L92.9 770.6M190 750.9L191.8 782.9M191.4 776.7L184.9 779.1M274.7 757.1L289.6 785.5L279.7 795.4M359.4 764L380.7 788.1L373.5 800.1M443.4 770.2L465.2 794.3L458.1 806.3M527.5 778.2L546.5 805.3M542.9 800.2L538.6 805.7M611.4 785.2L632.7 809.3M628.6 804.6L625 810.6M696.1 792.8L706.7 821.7M704.5 815.8L699 820M780.6 799.6L792.5 831.2M790.3 825.3L784.8 829.6M864.1 808.9L868.9 840.4M867.9 834.2L861.7 837.3M948.6 817.2L958.2 847.9M956.4 842L950.6 846M1033 825.9L1040.1 857.4M1038.7 851.3L1032.7 854.8M1115.6 834.9L1145.2 849.6M1139.6 846.8L1138.5 853.7M1199.7 843.5L1231.1 852.3M1225.1 850.6L1225.3 857.6M98.2 814.2L94.4 845.9L80.7 848.5M182.5 820.2L184.3 851.6L171.2 856.5M266.6 826.4L276 856.6L264.6 864.6M351.2 833.3L364.6 861.7M361.9 856L356.8 860.8M434.6 839.5L456.4 863.1M452.2 858.5L448.7 864.6M517.7 846.9L540.3 867.9M535.8 863.6L532.8 870M602.7 853.8L626.5 870.4M621.3 866.8L619.2 873.5M686.3 862L704 888.1M700.5 882.9L696.1 888.4M769.5 869.5L787.3 895.6M783.8 890.4L779.4 895.9M853.7 878.3L868.6 906.2M865.6 900.7L860.7 905.7M937.3 886.2L964.5 901.6M959.1 898.5L957.6 905.3M1019.7 894.3L1048.3 913.3M1043.1 909.8L1041.1 916.5M1104.4 903.6L1135.9 913.5M1130 911.7L1130 918.6M1188.4 913.5L1220.4 920.6M1214.3 919.3L1214.9 926.2M1271.5 922.7L1305.1 918.1M1298.9 919L1301.9 925.3M91.2 883.4L87.1 915.9L73.4 918.4M175.1 889.7L176.9 921.6L163.9 926.5M259 895.4L265.3 927.9L253.1 934.6M342.8 902.2L352.7 933.6M350.8 927.7L345.1 931.7M426.8 909.7L436.7 939.1M434.7 933.2L429.1 937.3M510.3 916.7L510.8 948.6M510.7 942.4L504.1 944.5M593.9 923.2L614.4 948.8L606.7 960.4M677.4 930.8L691.6 960.5L681.4 970M760 939.6L776 965.5M772.7 960.2L768.2 965.5M844.1 946.9L866.7 969.9M862.3 965.4L859 971.6M927.3 955.5L955.2 972M949.9 968.9L948.2 975.6M1010.4 963.6L1041.9 973.5M1036 971.7L1036 978.6M1092.4 972.5L1126.3 972.1M1120.1 972.2L1122.2 978.8M1175.4 981L1209.6 979.7M1203.4 980L1205.7 986.5M1259.7 991.7L1292.1 1001.2M1286.1 999.5L1286.3 1006.5M84.2 952.9L80.1 984.9L66.4 987.4M167.6 958.9L171.9 990.9L159.2 996.8M251 965.2L258.1 996.6L246 1003.6M334.5 971.7L341.1 1002.9L328.9 1009.8M418.6 978.4L427.5 1007.9L416 1015.8M502.3 985.3L513 1014.7L501.9 1023.1M668.1 1000.3L679.2 1030.5L668.1 1039M751.2 1008.3L766.6 1036.7M763.6 1031.2L758.7 1036.2M833.9 1016.2L854.7 1040.6M850.7 1035.9L846.9 1041.8M916.9 1024.1L948.1 1033.5M942.2 1031.7L942.2 1038.7M999.9 1033.6L1032.4 1028.2M1026.3 1029.2L1029.4 1035.4M1082.6 1041.9L1115.1 1047.8M1109 1046.7L1109.8 1053.6M1165.8 1051.3L1194.4 1036M1188.9 1039L1193.9 1043.9M1248.4 1060.8L1281.6 1053.9M1275.5 1055.2L1278.9 1061.3M77 1022.2L78.8 1054.6L65.7 1059.5M160.2 1028.4L166.1 1060.4L153.8 1066.9M243.2 1034.7L251.1 1066.1L239.2 1073.4M326.6 1041.4L336.5 1071.6L325.2 1079.8M409.9 1047.8L424.6 1076.2L414.7 1086M492.5 1055L511.5 1081.3L503.1 1092.4M575.7 1062.3L602.6 1080.3M597.4 1076.8L595.4 1083.5M658.7 1070.1L672.9 1098M670.1 1092.4L665.1 1097.3M741.9 1077.7L764.4 1103.8M760.3 1099.1L756.7 1105M824 1085L850.8 1104.5M845.7 1100.8L843.5 1107.4M906.9 1093.7L939.9 1090.1M933.7 1090.8L936.5 1097.2M990.9 1101.8L1012.4 1076.7M1008.4 1081.4L1014.8 1084.2M1071.1 1110.8L1098.2 1093M1093 1096.4L1098.4 1100.8M70.2 1091.7L76.1 1123.6L63.8 1130.2M153.2 1097.7L161.8 1129.6L150 1137.1M236.1 1104.1L246.7 1134.2L235.5 1142.5M318.3 1110.3L331 1140.5L320.3 1149.4M401.9 1117.8L417.4 1145.5L407.7 1155.6M484.3 1124.6L502.3 1151.7L493.5 1162.6M567.5 1132L586 1158.1M582.4 1153L578.1 1158.5M649.6 1139.5L671.4 1162.3M667.1 1157.8L663.7 1163.9M732.2 1146.8L760.3 1165.5M755.1 1162L753.1 1168.7M814.1 1154.2L844.2 1168.1M838.5 1165.5L837.6 1172.4M1060.8 1181.1L1060.8 1147.2M1060.8 1153.4L1067.5 1151.4M63.2 1160.9L69.8 1193.1L57.6 1199.9"/>
<circle cx="434" cy="146" r="5.0"/>
<circle cx="522.5" cy="154" r="5.0"/>
<circle cx="426.5" cy="214" r="5.0"/>
<circle cx="513.8" cy="221" r="5.0"/>
<circle cx="600.8" cy="228.8" r="5.0"/>
<circle cx="687.5" cy="235.8" r="5.0"/>
<circle cx="505" cy="289.5" r="5.0"/>
<circle cx="591" cy="296.5" r="5.0"/>
<circle cx="677.8" cy="303.8" r="5.0"/>
<circle cx="764" cy="311.6" r="5.0"/>
<circle cx="582" cy="365" r="5.0"/>
<circle cx="667.8" cy="372.5" r="5.0"/>
<circle cx="754" cy="380.5" r="5.0"/>
<circle cx="658.8" cy="440.8" r="5.0"/>
<circle cx="744.5" cy="448.8" r="5.0"/>
<circle cx="563.3" cy="502" r="5.0"/>
<circle cx="819.8" cy="525" r="5.0"/>
<circle cx="905.3" cy="533.3" r="5.0"/>
<circle cx="554" cy="570.5" r="5.0"/>
<circle cx="639.5" cy="578" r="5.0"/>
<circle cx="630.3" cy="647" r="5.0"/>
<circle cx="799.8" cy="662.5" r="5.0"/>
<circle cx="620.8" cy="716.3" r="5.0"/>
<circle cx="958.5" cy="747.5" r="5.0"/>
<circle cx="584" cy="992.5" r="5.0"/>
<circle cx="1154" cy="1121" r="5.0"/>
<circle cx="1236.3" cy="1130.2" r="5.0"/>
<circle cx="896.5" cy="1162.5" r="5.0"/>
</g>
<g stroke="#b0b0b0" stroke-width="3.2" fill="none">
<path d="M186.4 150.4V1166.5M342.5 150.4V1166.5M498.9 150.4V1166.5M655.1 150.4V1166.5M811.5 150.4V1166.5M967.8 150.4V1166.5M1124.5 150.4V1166.5M30.5 307.5H1280.6M30.5 463.5H1280.6M30.5 619.5H1280.6M30.5 775.2H1280.6M30.5 931.7H1280.6M30.5 1088.5H1280.6"/>
</g>
</g>
<rect x="30.5" y="150.4" width="1250.1" height="1016.1" fill="none" stroke="#000" stroke-width="3.3"/>
<rect x="1295.5" y="1102.2" width="55.2" height="111.5" fill="#6826fe"/>
<rect x="1295.5" y="991.3" width="55.2" height="111.5" fill="#3473f8"/>
<rect x="1295.5" y="880.4" width="55.2" height="111.5" fill="#00b5eb"/>
<rect x="1295.5" y="769.5" width="55.2" height="111.5" fill="#32e3da"/>
<rect x="1295.5" y="658.6" width="55.2" height="111.5" fill="#66fcc2"/>
<rect x="1295.5" y="547.6" width="55.2" height="111.5" fill="#99fca6"/>
<rect x="1295.5" y="436.7" width="55.2" height="111.5" fill="#cce385"/>
<rect x="1295.5" y="325.8" width="55.2" height="111.5" fill="#ffb360"/>
<rect x="1295.5" y="214.9" width="55.2" height="111.5" fill="#ff733b"/>
<rect x="1295.5" y="104" width="55.2" height="111.5" fill="#ff2613"/>
<rect x="1295.5" y="104.3" width="55.2" height="1109.1" fill="none" stroke="#000" stroke-width="3.3"/>
<path d="M1350.7 1213.4H1365.3M1350.7 1102.5H1365.3M1350.7 991.6H1365.3M1350.7 880.7H1365.3M1350.7 769.8H1365.3M1350.7 658.9H1365.3M1350.7 547.9H1365.3M1350.7 437H1365.3M1350.7 326.1H1365.3M1350.7 215.2H1365.3M1350.7 104.3H1365.3" stroke="#000" stroke-width="3.3" fill="none"/>
<text x="1380.54" y="1228.31" font-size="43.91" textLength="116.88" lengthAdjust="spacingAndGlyphs">0.001</text>
<text x="1380.52" y="1117.84" font-size="43.91" textLength="117.53" lengthAdjust="spacingAndGlyphs">0.003</text>
<text x="1380.54" y="1007.37" font-size="43.91" textLength="117.69" lengthAdjust="spacingAndGlyphs">0.006</text>
<text x="1380.51" y="895.90" font-size="43.91" textLength="89.74" lengthAdjust="spacingAndGlyphs">0.02</text>
<text x="1380.52" y="785.47" font-size="43.91" textLength="90.88" lengthAdjust="spacingAndGlyphs">0.04</text>
<text x="1380.46" y="673.93" font-size="43.91" textLength="63.70" lengthAdjust="spacingAndGlyphs">0.1</text>
<text x="1380.46" y="563.46" font-size="43.91" textLength="64.31" lengthAdjust="spacingAndGlyphs">0.3</text>
<text x="1380.48" y="451.99" font-size="43.91" textLength="64.43" lengthAdjust="spacingAndGlyphs">0.6</text>
<text x="1380.44" y="341.52" font-size="43.91" textLength="23.65" lengthAdjust="spacingAndGlyphs">2</text>
<text x="1381.35" y="230.05" font-size="43.91" textLength="23.61" lengthAdjust="spacingAndGlyphs">4</text>
<text x="1381.43" y="119.61" font-size="43.91" textLength="49.98" lengthAdjust="spacingAndGlyphs">10</text>
<text x="1305.85" y="78.80" font-size="52.00" textLength="110.67" lengthAdjust="spacingAndGlyphs">ppm</text>
<text x="363.70" y="68.20" font-size="50.90" textLength="584.41" lengthAdjust="spacingAndGlyphs">WRF-Tracer CO_MAL sfc</text>
<text x="101.66" y="125.80" font-size="50.54" textLength="1119.05" lengthAdjust="spacingAndGlyphs">Init 2024-03-27 1200 Time 2024-03-31 1200</text>
</svg>
</body></html>
